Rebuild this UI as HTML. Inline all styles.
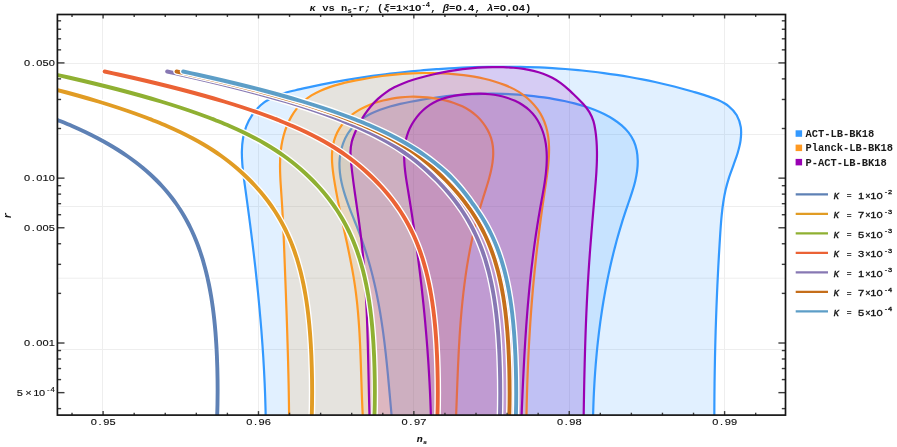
<!DOCTYPE html>
<html><head><meta charset="utf-8"><title>plot</title>
<style>html,body{margin:0;padding:0;background:#fff;}body{width:897px;height:447px;overflow:hidden;position:relative;font-family:"Liberation Mono",monospace;}</style></head>
<body>
<svg width="897" height="447" viewBox="0 0 897 447" style="position:absolute;left:0;top:0;will-change:transform">
<defs><clipPath id="cp"><rect x="57.40" y="14.50" width="728.10" height="400.60"/></clipPath></defs>
<rect width="897" height="447" fill="#fff"/>
<g stroke="#eeeeee" stroke-width="1" fill="none">
<line x1="102.50" y1="14.50" x2="102.50" y2="415.10"/>
<line x1="258.50" y1="14.50" x2="258.50" y2="415.10"/>
<line x1="413.50" y1="14.50" x2="413.50" y2="415.10"/>
<line x1="569.50" y1="14.50" x2="569.50" y2="415.10"/>
<line x1="724.50" y1="14.50" x2="724.50" y2="415.10"/>
<line x1="57.40" y1="63.50" x2="785.50" y2="63.50"/>
<line x1="57.40" y1="134.50" x2="785.50" y2="134.50"/>
<line x1="57.40" y1="206.50" x2="785.50" y2="206.50"/>
<line x1="57.40" y1="278.20" x2="785.50" y2="278.20"/>
<line x1="57.40" y1="349.50" x2="785.50" y2="349.50"/>
</g>
<g clip-path="url(#cp)">
<path d="M265.89,434.94 C265.87,432.80 265.84,426.37 265.78,422.08 C265.72,417.79 265.64,413.50 265.54,409.20 C265.43,404.90 265.31,400.60 265.16,396.30 C265.01,391.99 264.84,387.69 264.66,383.38 C264.47,379.07 264.26,374.76 264.03,370.45 C263.80,366.14 263.55,361.83 263.29,357.52 C263.02,353.21 262.73,348.90 262.43,344.59 C262.13,340.28 261.81,335.97 261.47,331.66 C261.14,327.35 260.78,323.04 260.41,318.74 C260.04,314.43 259.66,310.13 259.26,305.83 C258.86,301.53 258.45,297.23 258.02,292.94 C257.59,288.65 257.15,284.36 256.69,280.07 C256.24,275.79 255.77,271.51 255.29,267.23 C254.81,262.96 254.32,258.69 253.82,254.42 C253.32,250.16 252.80,245.90 252.28,241.65 C251.76,237.40 251.22,233.16 250.68,228.92 C250.14,224.68 249.59,220.46 249.03,216.22 C248.47,211.98 247.90,207.74 247.32,203.47 C246.75,199.20 246.16,194.92 245.58,190.60 C244.99,186.28 244.34,181.91 243.81,177.54 C243.27,173.16 242.69,168.73 242.36,164.35 C242.04,159.97 241.77,155.57 241.88,151.26 C241.98,146.94 242.25,142.64 242.99,138.46 C243.73,134.29 244.79,130.13 246.33,126.19 C247.88,122.25 249.90,118.33 252.28,114.84 C254.66,111.35 257.49,108.02 260.61,105.25 C263.72,102.49 267.27,100.19 270.98,98.24 C274.68,96.30 278.75,94.90 282.84,93.56 C286.93,92.23 291.25,91.27 295.50,90.23 C299.75,89.19 304.05,88.27 308.33,87.34 C312.60,86.42 316.87,85.52 321.14,84.67 C325.42,83.81 329.69,82.98 333.96,82.19 C338.23,81.40 342.50,80.64 346.77,79.92 C351.04,79.19 355.31,78.50 359.58,77.83 C363.85,77.17 368.12,76.54 372.39,75.94 C376.67,75.35 380.94,74.78 385.21,74.24 C389.48,73.70 393.75,73.20 398.03,72.72 C402.30,72.24 406.57,71.80 410.85,71.38 C415.12,70.96 419.40,70.57 423.68,70.21 C427.96,69.85 432.24,69.52 436.52,69.21 C440.80,68.91 445.08,68.63 449.37,68.38 C453.65,68.13 457.94,67.91 462.22,67.72 C466.51,67.52 470.80,67.35 475.09,67.22 C479.39,67.08 483.68,66.97 487.97,66.89 C492.27,66.81 496.56,66.76 500.86,66.74 C505.15,66.72 509.45,66.74 513.75,66.78 C518.04,66.83 522.34,66.91 526.63,67.02 C530.93,67.14 535.23,67.28 539.52,67.47 C543.82,67.65 548.11,67.87 552.41,68.13 C556.70,68.38 561.00,68.68 565.29,69.01 C569.58,69.34 573.87,69.71 578.16,70.12 C582.45,70.53 586.73,70.98 591.02,71.47 C595.30,71.96 599.59,72.48 603.87,73.06 C608.15,73.63 612.43,74.24 616.70,74.90 C620.98,75.56 625.25,76.26 629.52,77.01 C633.78,77.76 638.05,78.55 642.31,79.39 C646.57,80.23 650.83,81.11 655.09,82.04 C659.34,82.97 663.59,83.95 667.84,84.98 C672.08,86.01 676.32,87.09 680.56,88.22 C684.79,89.34 689.03,90.52 693.25,91.75 C697.48,92.98 701.76,94.20 705.91,95.60 C710.06,96.99 714.32,98.33 718.13,100.11 C721.95,101.89 725.71,103.78 728.81,106.29 C731.91,108.80 734.74,111.70 736.74,115.18 C738.74,118.66 740.15,123.00 740.80,127.16 C741.45,131.33 741.13,135.90 740.62,140.17 C740.10,144.44 738.92,148.63 737.73,152.78 C736.54,156.94 734.92,161.00 733.48,165.10 C732.04,169.20 730.39,173.25 729.08,177.37 C727.77,181.50 726.58,185.64 725.61,189.83 C724.64,194.02 723.89,198.26 723.24,202.51 C722.58,206.76 722.11,211.05 721.67,215.34 C721.23,219.63 720.92,223.94 720.61,228.25 C720.29,232.56 720.03,236.88 719.77,241.19 C719.50,245.51 719.24,249.82 718.99,254.12 C718.75,258.43 718.51,262.74 718.28,267.05 C718.06,271.35 717.84,275.66 717.64,279.96 C717.43,284.26 717.23,288.57 717.05,292.87 C716.86,297.17 716.69,301.47 716.52,305.77 C716.35,310.08 716.20,314.38 716.05,318.68 C715.90,322.98 715.77,327.28 715.64,331.58 C715.51,335.88 715.39,340.18 715.29,344.49 C715.18,348.79 715.08,353.09 714.99,357.40 C714.90,361.70 714.82,366.00 714.75,370.31 C714.67,374.62 714.61,378.92 714.56,383.23 C714.51,387.54 714.46,391.85 714.43,396.16 C714.39,400.48 714.37,404.79 714.35,409.11 C714.33,413.42 714.32,417.74 714.32,422.06 C714.32,426.38 714.34,432.87 714.35,435.03Z" fill="#3399FF" fill-opacity="0.15" stroke="#3399FF" stroke-width="2.2" stroke-linejoin="round"/>
<path d="M393.45,435.30 C393.28,433.54 392.76,428.24 392.43,424.72 C392.10,421.20 391.79,417.70 391.47,414.20 C391.15,410.71 390.85,407.23 390.54,403.76 C390.23,400.28 389.92,396.82 389.61,393.37 C389.30,389.92 389.00,386.47 388.68,383.04 C388.36,379.60 388.04,376.18 387.71,372.76 C387.38,369.35 387.04,365.94 386.69,362.54 C386.34,359.13 385.98,355.74 385.59,352.35 C385.21,348.97 384.82,345.59 384.40,342.21 C383.99,338.84 383.55,335.47 383.10,332.11 C382.64,328.75 382.16,325.39 381.65,322.04 C381.14,318.69 380.61,315.34 380.05,312.00 C379.48,308.66 378.89,305.32 378.26,301.98 C377.63,298.65 376.98,295.31 376.28,291.99 C375.58,288.66 374.85,285.33 374.07,282.01 C373.30,278.68 372.48,275.36 371.62,272.04 C370.76,268.72 369.86,265.40 368.91,262.08 C367.96,258.76 366.96,255.45 365.91,252.13 C364.87,248.81 363.77,245.49 362.61,242.17 C361.46,238.85 360.24,235.54 358.99,232.22 C357.73,228.90 356.39,225.57 355.09,222.25 C353.78,218.93 352.43,215.61 351.15,212.29 C349.87,208.97 348.58,205.65 347.41,202.33 C346.24,199.02 345.10,195.70 344.13,192.39 C343.15,189.07 342.25,185.76 341.55,182.46 C340.84,179.15 340.26,175.85 339.92,172.55 C339.57,169.25 339.39,165.96 339.48,162.67 C339.58,159.38 339.88,156.10 340.50,152.83 C341.12,149.56 342.00,146.23 343.21,143.05 C344.41,139.87 345.91,136.66 347.71,133.76 C349.51,130.86 351.65,128.10 354.01,125.65 C356.37,123.20 359.08,121.03 361.85,119.05 C364.62,117.07 367.61,115.36 370.65,113.80 C373.69,112.23 376.87,110.90 380.10,109.67 C383.33,108.45 386.66,107.41 390.02,106.44 C393.37,105.48 396.81,104.66 400.23,103.87 C403.66,103.09 407.13,102.41 410.58,101.74 C414.02,101.07 417.47,100.44 420.91,99.86 C424.36,99.27 427.80,98.72 431.23,98.22 C434.67,97.71 438.10,97.25 441.53,96.82 C444.97,96.40 448.39,96.02 451.82,95.68 C455.25,95.34 458.67,95.05 462.09,94.79 C465.51,94.54 468.93,94.33 472.35,94.16 C475.77,94.00 479.18,93.88 482.60,93.80 C486.01,93.72 489.42,93.69 492.83,93.71 C496.25,93.72 499.65,93.78 503.06,93.89 C506.47,93.99 509.88,94.14 513.28,94.34 C516.69,94.54 520.09,94.79 523.50,95.09 C526.90,95.38 530.31,95.72 533.71,96.11 C537.11,96.51 540.51,96.95 543.92,97.44 C547.32,97.93 550.72,98.46 554.12,99.06 C557.52,99.65 560.93,100.28 564.32,100.99 C567.71,101.70 571.10,102.47 574.47,103.34 C577.84,104.21 581.19,105.15 584.52,106.21 C587.84,107.28 591.15,108.44 594.41,109.74 C597.67,111.04 600.93,112.46 604.08,114.04 C607.23,115.62 610.39,117.33 613.32,119.22 C616.25,121.11 619.11,123.14 621.67,125.37 C624.22,127.61 626.62,130.00 628.64,132.60 C630.66,135.21 632.42,138.01 633.76,141.00 C635.11,143.98 636.06,147.23 636.73,150.53 C637.39,153.82 637.67,157.32 637.73,160.77 C637.79,164.21 637.52,167.76 637.09,171.20 C636.66,174.63 635.95,178.04 635.15,181.40 C634.35,184.76 633.34,188.07 632.31,191.38 C631.29,194.68 630.11,197.95 629.00,201.23 C627.88,204.51 626.72,207.78 625.63,211.07 C624.53,214.35 623.47,217.65 622.44,220.94 C621.41,224.24 620.41,227.55 619.44,230.86 C618.47,234.18 617.54,237.50 616.63,240.82 C615.73,244.15 614.85,247.48 614.00,250.82 C613.16,254.15 612.34,257.50 611.56,260.85 C610.77,264.20 610.01,267.55 609.28,270.91 C608.55,274.27 607.85,277.64 607.18,281.01 C606.50,284.38 605.86,287.76 605.24,291.14 C604.62,294.52 604.02,297.91 603.45,301.29 C602.89,304.68 602.35,308.08 601.83,311.48 C601.31,314.88 600.82,318.28 600.35,321.68 C599.89,325.09 599.44,328.50 599.03,331.91 C598.61,335.33 598.21,338.74 597.84,342.16 C597.47,345.58 597.12,349.01 596.79,352.43 C596.46,355.86 596.15,359.29 595.87,362.72 C595.58,366.15 595.32,369.58 595.08,373.02 C594.84,376.46 594.61,379.89 594.41,383.33 C594.21,386.77 594.03,390.22 593.86,393.66 C593.70,397.10 593.55,400.55 593.43,403.99 C593.30,407.44 593.19,410.89 593.10,414.34 C593.01,417.78 592.94,421.23 592.88,424.68 C592.82,428.13 592.78,433.31 592.76,435.03Z" fill="#3399FF" fill-opacity="0.15" stroke="#3399FF" stroke-width="2.2" stroke-linejoin="round"/>
<path d="M289.21,434.95 C289.20,433.24 289.19,428.12 289.17,424.70 C289.14,421.28 289.12,417.85 289.08,414.43 C289.04,411.00 289.00,407.57 288.95,404.13 C288.91,400.70 288.85,397.26 288.79,393.82 C288.73,390.38 288.67,386.94 288.60,383.49 C288.52,380.05 288.45,376.60 288.37,373.16 C288.29,369.71 288.20,366.26 288.11,362.81 C288.02,359.36 287.93,355.91 287.83,352.46 C287.73,349.01 287.63,345.56 287.52,342.11 C287.42,338.66 287.31,335.21 287.20,331.76 C287.09,328.31 286.97,324.86 286.86,321.42 C286.74,317.97 286.62,314.52 286.50,311.08 C286.38,307.64 286.25,304.20 286.13,300.76 C286.00,297.32 285.88,293.88 285.75,290.45 C285.62,287.01 285.49,283.58 285.36,280.15 C285.23,276.73 285.10,273.30 284.97,269.88 C284.84,266.46 284.71,263.05 284.58,259.63 C284.45,256.22 284.32,252.81 284.19,249.40 C284.05,245.99 283.92,242.59 283.77,239.18 C283.63,235.76 283.48,232.35 283.32,228.93 C283.16,225.52 283.00,222.09 282.82,218.66 C282.65,215.23 282.46,211.79 282.26,208.34 C282.06,204.89 281.85,201.43 281.62,197.96 C281.40,194.48 281.13,190.99 280.91,187.50 C280.69,184.00 280.45,180.49 280.30,176.99 C280.15,173.50 280.02,169.99 280.02,166.51 C280.03,163.02 280.09,159.54 280.32,156.09 C280.55,152.64 280.89,149.19 281.43,145.79 C281.97,142.39 282.66,139.00 283.56,135.69 C284.45,132.39 285.53,129.11 286.80,125.98 C288.06,122.84 289.52,119.77 291.17,116.87 C292.83,113.97 294.67,111.18 296.73,108.60 C298.78,106.01 301.03,103.58 303.49,101.38 C305.95,99.19 308.64,97.21 311.48,95.43 C314.32,93.64 317.39,92.09 320.53,90.67 C323.68,89.25 327.00,88.03 330.35,86.90 C333.70,85.77 337.18,84.80 340.65,83.89 C344.12,82.98 347.66,82.20 351.15,81.44 C354.63,80.68 358.12,79.99 361.58,79.33 C365.04,78.68 368.47,78.08 371.89,77.52 C375.31,76.97 378.72,76.46 382.11,76.01 C385.51,75.56 388.88,75.15 392.26,74.80 C395.64,74.45 399.01,74.14 402.38,73.89 C405.75,73.64 409.11,73.44 412.48,73.29 C415.85,73.14 419.22,73.05 422.60,73.00 C425.98,72.96 429.37,72.97 432.77,73.03 C436.17,73.09 439.58,73.20 443.01,73.37 C446.44,73.54 449.89,73.75 453.34,74.04 C456.79,74.33 460.25,74.68 463.71,75.11 C467.16,75.55 470.62,76.05 474.06,76.65 C477.50,77.26 480.94,77.94 484.34,78.74 C487.75,79.54 491.14,80.43 494.49,81.45 C497.83,82.48 501.18,83.59 504.43,84.87 C507.68,86.15 510.92,87.54 513.99,89.15 C517.05,90.77 520.06,92.54 522.84,94.55 C525.62,96.56 528.28,98.81 530.69,101.21 C533.10,103.61 535.34,106.24 537.31,108.96 C539.28,111.68 541.04,114.58 542.50,117.55 C543.96,120.51 545.14,123.60 546.09,126.74 C547.03,129.89 547.68,133.12 548.17,136.40 C548.66,139.69 548.90,143.05 549.01,146.43 C549.13,149.82 549.04,153.27 548.87,156.74 C548.70,160.20 548.37,163.71 548.00,167.22 C547.63,170.73 547.15,174.26 546.66,177.78 C546.18,181.30 545.63,184.83 545.11,188.33 C544.60,191.83 544.08,195.32 543.58,198.79 C543.08,202.26 542.59,205.71 542.11,209.14 C541.63,212.58 541.17,216.00 540.71,219.42 C540.26,222.83 539.81,226.23 539.38,229.62 C538.95,233.01 538.53,236.40 538.12,239.78 C537.71,243.16 537.31,246.53 536.92,249.90 C536.53,253.28 536.16,256.64 535.79,260.01 C535.43,263.38 535.07,266.75 534.73,270.13 C534.39,273.50 534.05,276.88 533.73,280.26 C533.41,283.65 533.10,287.03 532.80,290.43 C532.50,293.83 532.22,297.24 531.94,300.66 C531.66,304.08 531.40,307.51 531.14,310.94 C530.89,314.38 530.64,317.83 530.41,321.28 C530.17,324.73 529.95,328.19 529.74,331.65 C529.52,335.11 529.32,338.58 529.13,342.05 C528.93,345.52 528.75,348.99 528.58,352.46 C528.41,355.93 528.24,359.41 528.09,362.88 C527.94,366.35 527.79,369.82 527.66,373.28 C527.53,376.75 527.40,380.21 527.29,383.67 C527.17,387.12 527.07,390.57 526.97,394.02 C526.87,397.46 526.79,400.90 526.71,404.32 C526.63,407.75 526.56,411.17 526.50,414.57 C526.44,417.98 526.39,421.38 526.35,424.76 C526.30,428.14 526.26,433.17 526.24,434.86Z" fill="#FF9922" fill-opacity="0.15" stroke="#FF9922" stroke-width="2.2" stroke-linejoin="round"/>
<path d="M363.97,434.89 C363.87,433.44 363.54,429.09 363.35,426.17 C363.17,423.26 363.00,420.33 362.84,417.41 C362.68,414.48 362.54,411.54 362.40,408.60 C362.27,405.66 362.15,402.71 362.03,399.76 C361.92,396.80 361.81,393.85 361.71,390.89 C361.61,387.93 361.51,384.96 361.42,381.99 C361.32,379.03 361.23,376.06 361.13,373.09 C361.03,370.11 360.94,367.14 360.84,364.17 C360.73,361.19 360.63,358.22 360.51,355.24 C360.40,352.27 360.28,349.29 360.15,346.32 C360.01,343.35 359.87,340.37 359.71,337.40 C359.55,334.43 359.39,331.47 359.20,328.50 C359.01,325.54 358.81,322.57 358.58,319.62 C358.36,316.66 358.11,313.71 357.84,310.76 C357.58,307.81 357.29,304.87 356.97,301.93 C356.65,298.99 356.31,296.06 355.94,293.14 C355.57,290.21 355.16,287.30 354.73,284.39 C354.30,281.48 353.83,278.58 353.34,275.68 C352.86,272.79 352.34,269.90 351.80,267.01 C351.26,264.12 350.70,261.24 350.13,258.36 C349.55,255.48 348.96,252.61 348.36,249.73 C347.76,246.85 347.14,243.98 346.52,241.10 C345.90,238.22 345.27,235.35 344.64,232.46 C344.01,229.58 343.38,226.70 342.75,223.81 C342.12,220.92 341.50,218.02 340.88,215.12 C340.26,212.22 339.65,209.31 339.06,206.40 C338.46,203.48 337.88,200.56 337.32,197.62 C336.75,194.69 336.20,191.74 335.68,188.79 C335.16,185.83 334.64,182.86 334.18,179.88 C333.71,176.90 333.24,173.89 332.89,170.91 C332.54,167.92 332.22,164.92 332.08,161.97 C331.95,159.01 331.89,156.05 332.06,153.16 C332.23,150.26 332.53,147.39 333.12,144.59 C333.70,141.79 334.50,139.03 335.54,136.38 C336.58,133.73 337.88,131.13 339.37,128.69 C340.86,126.25 342.58,123.90 344.48,121.73 C346.37,119.57 348.49,117.55 350.73,115.70 C352.98,113.84 355.42,112.16 357.95,110.61 C360.48,109.07 363.16,107.68 365.90,106.42 C368.63,105.16 371.49,104.05 374.36,103.06 C377.23,102.06 380.18,101.21 383.10,100.46 C386.03,99.71 388.98,99.09 391.91,98.57 C394.85,98.05 397.78,97.65 400.71,97.35 C403.65,97.05 406.58,96.86 409.52,96.77 C412.46,96.67 415.41,96.69 418.36,96.80 C421.32,96.91 424.28,97.12 427.26,97.42 C430.23,97.72 433.24,98.11 436.23,98.60 C439.22,99.10 442.24,99.68 445.19,100.40 C448.15,101.13 451.11,101.95 453.96,102.94 C456.82,103.93 459.64,105.04 462.33,106.34 C465.02,107.64 467.64,109.09 470.09,110.74 C472.54,112.40 474.89,114.25 477.04,116.27 C479.19,118.28 481.21,120.50 482.98,122.81 C484.76,125.12 486.37,127.60 487.71,130.12 C489.06,132.64 490.18,135.28 491.03,137.92 C491.88,140.57 492.45,143.27 492.81,146.00 C493.18,148.72 493.27,151.48 493.23,154.27 C493.18,157.05 492.90,159.87 492.51,162.71 C492.13,165.54 491.56,168.40 490.92,171.28 C490.28,174.15 489.49,177.05 488.68,179.95 C487.87,182.85 486.95,185.77 486.05,188.69 C485.14,191.61 484.17,194.54 483.25,197.46 C482.33,200.39 481.41,203.32 480.53,206.24 C479.66,209.16 478.83,212.09 478.02,215.00 C477.22,217.92 476.45,220.84 475.71,223.75 C474.98,226.67 474.27,229.58 473.60,232.49 C472.92,235.41 472.28,238.32 471.66,241.23 C471.04,244.14 470.45,247.04 469.89,249.95 C469.33,252.86 468.80,255.76 468.29,258.67 C467.78,261.58 467.30,264.48 466.84,267.39 C466.38,270.29 465.95,273.20 465.53,276.10 C465.12,279.01 464.73,281.92 464.36,284.82 C463.99,287.73 463.64,290.64 463.31,293.54 C462.97,296.45 462.66,299.36 462.37,302.27 C462.07,305.18 461.79,308.09 461.53,311.01 C461.27,313.92 461.02,316.83 460.79,319.75 C460.56,322.67 460.34,325.59 460.13,328.51 C459.93,331.43 459.73,334.35 459.55,337.28 C459.37,340.20 459.20,343.13 459.03,346.06 C458.87,348.99 458.72,351.93 458.57,354.87 C458.42,357.80 458.29,360.74 458.15,363.69 C458.02,366.63 457.89,369.58 457.77,372.54 C457.65,375.49 457.53,378.44 457.41,381.40 C457.30,384.37 457.18,387.33 457.07,390.30 C456.96,393.27 456.85,396.24 456.74,399.22 C456.62,402.20 456.51,405.19 456.40,408.18 C456.28,411.17 456.17,414.16 456.04,417.16 C455.92,420.17 455.80,423.17 455.67,426.19 C455.54,429.20 455.33,433.73 455.26,435.24Z" fill="#FF9922" fill-opacity="0.15" stroke="#FF9922" stroke-width="2.2" stroke-linejoin="round"/>
<path d="M370.10,434.98 C370.04,433.29 369.86,428.23 369.76,424.86 C369.65,421.49 369.55,418.11 369.46,414.74 C369.36,411.36 369.28,407.99 369.19,404.61 C369.11,401.23 369.03,397.85 368.95,394.47 C368.88,391.09 368.80,387.71 368.73,384.33 C368.65,380.94 368.58,377.56 368.51,374.18 C368.44,370.80 368.36,367.41 368.29,364.03 C368.21,360.64 368.13,357.26 368.05,353.88 C367.97,350.49 367.88,347.11 367.79,343.73 C367.69,340.34 367.60,336.96 367.49,333.58 C367.38,330.19 367.27,326.81 367.15,323.43 C367.03,320.05 366.90,316.66 366.75,313.28 C366.61,309.90 366.46,306.52 366.29,303.14 C366.13,299.77 365.95,296.39 365.76,293.01 C365.56,289.64 365.36,286.26 365.14,282.89 C364.91,279.51 364.68,276.14 364.42,272.77 C364.17,269.40 363.90,266.03 363.60,262.67 C363.31,259.30 363.00,255.93 362.67,252.57 C362.34,249.21 361.99,245.85 361.61,242.49 C361.24,239.13 360.84,235.78 360.42,232.42 C360.00,229.07 359.55,225.72 359.09,222.37 C358.63,219.02 358.15,215.68 357.67,212.33 C357.19,208.98 356.69,205.63 356.21,202.28 C355.73,198.94 355.24,195.59 354.77,192.24 C354.30,188.88 353.83,185.53 353.39,182.17 C352.95,178.81 352.53,175.45 352.14,172.09 C351.75,168.72 351.34,165.35 351.07,161.98 C350.80,158.61 350.39,155.21 350.50,151.88 C350.61,148.56 350.97,145.25 351.73,142.02 C352.50,138.79 353.79,135.63 355.07,132.50 C356.36,129.37 357.85,126.26 359.46,123.25 C361.07,120.24 362.84,117.27 364.75,114.43 C366.66,111.60 368.71,108.84 370.91,106.24 C373.10,103.65 375.44,101.16 377.91,98.88 C380.38,96.59 383.00,94.45 385.73,92.53 C388.47,90.60 391.36,88.89 394.33,87.33 C397.30,85.77 400.40,84.42 403.54,83.17 C406.67,81.91 409.91,80.82 413.15,79.79 C416.39,78.76 419.70,77.85 422.98,76.96 C426.26,76.08 429.55,75.27 432.85,74.50 C436.14,73.73 439.44,73.02 442.75,72.37 C446.05,71.72 449.36,71.12 452.67,70.58 C455.99,70.05 459.31,69.57 462.65,69.15 C465.98,68.74 469.32,68.38 472.67,68.09 C476.02,67.79 479.38,67.56 482.76,67.40 C486.13,67.23 489.51,67.13 492.91,67.09 C496.31,67.06 499.73,67.08 503.14,67.18 C506.56,67.29 510.01,67.45 513.41,67.74 C516.82,68.02 520.24,68.39 523.59,68.91 C526.95,69.43 530.29,70.05 533.55,70.86 C536.81,71.67 540.04,72.61 543.16,73.76 C546.28,74.92 549.34,76.23 552.27,77.78 C555.21,79.33 558.04,81.10 560.77,83.06 C563.50,85.03 566.08,87.28 568.63,89.56 C571.19,91.83 573.66,94.28 576.10,96.70 C578.54,99.12 581.05,101.51 583.26,104.07 C585.48,106.64 587.69,109.24 589.39,112.09 C591.09,114.93 592.44,117.99 593.45,121.16 C594.46,124.32 594.95,127.75 595.46,131.09 C595.98,134.42 596.28,137.81 596.52,141.18 C596.77,144.55 596.89,147.92 596.95,151.30 C597.01,154.68 596.96,158.06 596.87,161.44 C596.78,164.82 596.60,168.20 596.41,171.59 C596.22,174.97 595.96,178.35 595.71,181.74 C595.45,185.12 595.16,188.50 594.88,191.88 C594.61,195.25 594.32,198.63 594.04,202.00 C593.75,205.38 593.47,208.75 593.18,212.12 C592.90,215.49 592.61,218.86 592.33,222.23 C592.05,225.60 591.77,228.97 591.50,232.33 C591.22,235.70 590.95,239.07 590.69,242.44 C590.42,245.80 590.16,249.17 589.91,252.54 C589.66,255.91 589.42,259.28 589.19,262.65 C588.95,266.02 588.73,269.39 588.52,272.76 C588.30,276.14 588.10,279.51 587.90,282.88 C587.71,286.26 587.52,289.63 587.34,293.01 C587.17,296.39 587.00,299.77 586.83,303.14 C586.67,306.52 586.52,309.90 586.37,313.28 C586.23,316.66 586.09,320.04 585.95,323.42 C585.82,326.80 585.70,330.18 585.58,333.56 C585.46,336.95 585.35,340.33 585.24,343.71 C585.13,347.09 585.03,350.47 584.94,353.86 C584.84,357.24 584.75,360.62 584.67,364.00 C584.58,367.39 584.50,370.77 584.43,374.15 C584.35,377.53 584.28,380.92 584.21,384.30 C584.14,387.68 584.08,391.06 584.02,394.44 C583.96,397.82 583.90,401.21 583.85,404.59 C583.79,407.97 583.74,411.35 583.69,414.73 C583.64,418.10 583.60,421.48 583.55,424.86 C583.51,428.24 583.44,433.30 583.42,434.99Z" fill="#9900B3" fill-opacity="0.15" stroke="#9900B3" stroke-width="2.2" stroke-linejoin="round"/>
<path d="M431.36,435.18 C431.33,433.70 431.25,429.27 431.18,426.32 C431.11,423.37 431.03,420.43 430.95,417.49 C430.86,414.55 430.77,411.62 430.66,408.69 C430.56,405.76 430.45,402.83 430.33,399.91 C430.21,396.99 430.08,394.07 429.95,391.15 C429.81,388.24 429.67,385.33 429.51,382.42 C429.36,379.51 429.20,376.60 429.03,373.70 C428.86,370.80 428.69,367.90 428.50,365.00 C428.32,362.11 428.12,359.21 427.92,356.32 C427.72,353.43 427.51,350.54 427.30,347.65 C427.08,344.76 426.86,341.87 426.62,338.99 C426.39,336.11 426.15,333.22 425.90,330.34 C425.66,327.46 425.40,324.58 425.14,321.70 C424.87,318.82 424.60,315.94 424.32,313.06 C424.04,310.19 423.76,307.31 423.46,304.43 C423.17,301.56 422.87,298.68 422.56,295.80 C422.25,292.93 421.93,290.05 421.61,287.18 C421.28,284.30 420.95,281.42 420.61,278.55 C420.27,275.67 419.92,272.79 419.57,269.91 C419.21,267.04 418.85,264.16 418.48,261.28 C418.12,258.40 417.74,255.52 417.36,252.63 C416.97,249.75 416.58,246.87 416.18,243.98 C415.79,241.09 415.38,238.21 414.97,235.32 C414.56,232.43 414.14,229.53 413.71,226.64 C413.28,223.75 412.85,220.85 412.41,217.95 C411.97,215.05 411.52,212.15 411.07,209.24 C410.61,206.34 410.15,203.43 409.68,200.52 C409.22,197.61 408.74,194.69 408.26,191.78 C407.78,188.86 407.28,185.93 406.82,183.02 C406.36,180.10 405.90,177.18 405.53,174.27 C405.15,171.36 404.80,168.46 404.57,165.58 C404.35,162.69 404.18,159.82 404.17,156.97 C404.15,154.13 404.23,151.29 404.50,148.50 C404.77,145.70 405.16,142.92 405.77,140.18 C406.38,137.45 407.16,134.74 408.18,132.07 C409.20,129.41 410.46,126.76 411.92,124.22 C413.37,121.68 415.09,119.15 416.93,116.82 C418.78,114.50 420.85,112.24 423.00,110.25 C425.16,108.25 427.49,106.43 429.88,104.85 C432.28,103.28 434.79,101.96 437.38,100.80 C439.96,99.65 442.64,98.72 445.38,97.91 C448.12,97.10 450.94,96.48 453.80,95.93 C456.66,95.39 459.59,94.98 462.54,94.64 C465.48,94.30 468.49,94.04 471.49,93.88 C474.48,93.73 477.52,93.66 480.52,93.72 C483.53,93.78 486.55,93.93 489.53,94.24 C492.50,94.54 495.47,94.95 498.36,95.53 C501.26,96.11 504.13,96.81 506.91,97.69 C509.69,98.57 512.42,99.60 515.04,100.82 C517.66,102.03 520.22,103.41 522.62,104.99 C525.01,106.56 527.34,108.31 529.42,110.25 C531.51,112.19 533.45,114.33 535.15,116.61 C536.84,118.88 538.32,121.39 539.61,123.91 C540.90,126.43 541.97,129.09 542.88,131.74 C543.79,134.39 544.50,137.10 545.08,139.82 C545.66,142.55 546.06,145.31 546.34,148.09 C546.63,150.88 546.76,153.70 546.80,156.53 C546.83,159.37 546.74,162.23 546.58,165.10 C546.41,167.98 546.14,170.88 545.82,173.78 C545.49,176.69 545.08,179.62 544.65,182.54 C544.22,185.47 543.71,188.41 543.21,191.35 C542.71,194.29 542.16,197.23 541.63,200.17 C541.11,203.11 540.57,206.05 540.05,208.98 C539.54,211.92 539.04,214.84 538.55,217.77 C538.07,220.69 537.60,223.61 537.15,226.52 C536.69,229.43 536.25,232.34 535.82,235.25 C535.40,238.15 534.99,241.05 534.59,243.95 C534.19,246.85 533.80,249.74 533.43,252.63 C533.05,255.53 532.69,258.41 532.35,261.30 C532.00,264.19 531.66,267.07 531.33,269.95 C531.01,272.83 530.69,275.71 530.39,278.59 C530.09,281.46 529.80,284.34 529.51,287.21 C529.23,290.09 528.96,292.96 528.69,295.84 C528.43,298.71 528.18,301.58 527.93,304.45 C527.69,307.33 527.45,310.20 527.22,313.07 C527.00,315.94 526.78,318.82 526.57,321.69 C526.35,324.56 526.15,327.44 525.95,330.31 C525.76,333.19 525.57,336.07 525.38,338.95 C525.20,341.82 525.02,344.71 524.85,347.59 C524.68,350.47 524.51,353.36 524.35,356.24 C524.19,359.13 524.03,362.02 523.88,364.92 C523.73,367.81 523.58,370.71 523.44,373.61 C523.30,376.51 523.16,379.41 523.02,382.32 C522.89,385.23 522.75,388.14 522.62,391.06 C522.49,393.97 522.37,396.90 522.24,399.82 C522.11,402.75 521.99,405.68 521.87,408.62 C521.75,411.56 521.63,414.50 521.51,417.45 C521.38,420.40 521.27,423.35 521.15,426.31 C521.03,429.27 520.85,433.73 520.79,435.22Z" fill="#9900B3" fill-opacity="0.15" stroke="#9900B3" stroke-width="2.2" stroke-linejoin="round"/>
<path d="M-115.69,71.50 C-113.40,72.00 -106.49,73.50 -101.98,74.50 C-97.48,75.50 -93.03,76.50 -88.65,77.50 C-84.27,78.50 -79.95,79.50 -75.69,80.50 C-71.44,81.50 -67.25,82.50 -63.13,83.50 C-59.01,84.50 -54.96,85.50 -50.97,86.50 C-46.99,87.50 -43.07,88.50 -39.22,89.50 C-35.37,90.50 -31.58,91.50 -27.87,92.50 C-24.15,93.50 -20.51,94.50 -16.93,95.50 C-13.35,96.50 -9.84,97.50 -6.40,98.50 C-2.95,99.50 0.42,100.50 3.73,101.50 C7.04,102.50 10.28,103.50 13.45,104.50 C16.63,105.50 19.74,106.50 22.78,107.50 C25.83,108.50 28.81,109.50 31.72,110.50 C34.64,111.50 37.49,112.50 40.28,113.50 C43.07,114.50 45.80,115.50 48.46,116.50 C51.13,117.50 54.77,118.92 56.28,119.50 C57.80,120.08 54.93,118.92 57.55,120.00 C60.17,121.08 67.42,124.00 72.02,126.00 C76.63,128.00 80.99,130.00 85.19,132.00 C89.38,134.00 93.36,136.00 97.17,138.00 C100.99,140.00 104.61,142.00 108.09,144.00 C111.57,146.00 114.87,148.00 118.04,150.00 C121.21,152.00 124.23,154.00 127.12,156.00 C130.01,158.00 132.76,160.00 135.40,162.00 C138.04,164.00 140.55,166.00 142.96,168.00 C145.37,170.00 147.66,172.00 149.86,174.00 C152.06,176.00 154.15,178.00 156.16,180.00 C158.17,182.00 160.09,184.00 161.92,186.00 C163.76,188.00 165.51,190.00 167.19,192.00 C168.87,194.00 170.47,196.00 172.00,198.00 C173.54,200.00 175.00,202.00 176.40,204.00 C177.80,206.00 179.13,208.00 180.42,210.00 C181.70,212.00 182.91,214.00 184.08,216.00 C185.25,218.00 186.37,220.00 187.43,222.00 C188.50,224.00 189.52,226.00 190.49,228.00 C191.47,230.00 192.39,232.00 193.28,234.00 C194.18,236.00 195.02,238.00 195.83,240.00 C196.65,242.00 197.42,244.00 198.16,246.00 C198.90,248.00 199.61,250.00 200.28,252.00 C200.96,254.00 201.80,256.67 202.22,258.00 C202.64,259.33 202.18,257.67 202.83,260.00 C203.47,262.33 205.10,268.00 206.10,272.00 C207.10,276.00 208.00,280.00 208.83,284.00 C209.66,288.00 210.40,292.00 211.07,296.00 C211.75,300.00 212.34,304.00 212.88,308.00 C213.42,312.00 213.89,316.00 214.32,320.00 C214.74,324.00 215.11,328.00 215.44,332.00 C215.76,336.00 216.04,340.00 216.28,344.00 C216.53,348.00 216.73,352.00 216.90,356.00 C217.07,360.00 217.21,364.00 217.32,368.00 C217.43,372.00 217.51,376.00 217.56,380.00 C217.61,384.00 217.63,388.00 217.62,392.00 C217.60,396.00 217.57,400.00 217.49,404.00 C217.40,408.00 217.30,412.00 217.13,416.00 C216.96,420.00 216.57,426.00 216.46,428.00" fill="none" stroke="#fff" stroke-width="6.6" stroke-linecap="round"/>
<path d="M-115.69,71.50 C-113.40,72.00 -106.49,73.50 -101.98,74.50 C-97.48,75.50 -93.03,76.50 -88.65,77.50 C-84.27,78.50 -79.95,79.50 -75.69,80.50 C-71.44,81.50 -67.25,82.50 -63.13,83.50 C-59.01,84.50 -54.96,85.50 -50.97,86.50 C-46.99,87.50 -43.07,88.50 -39.22,89.50 C-35.37,90.50 -31.58,91.50 -27.87,92.50 C-24.15,93.50 -20.51,94.50 -16.93,95.50 C-13.35,96.50 -9.84,97.50 -6.40,98.50 C-2.95,99.50 0.42,100.50 3.73,101.50 C7.04,102.50 10.28,103.50 13.45,104.50 C16.63,105.50 19.74,106.50 22.78,107.50 C25.83,108.50 28.81,109.50 31.72,110.50 C34.64,111.50 37.49,112.50 40.28,113.50 C43.07,114.50 45.80,115.50 48.46,116.50 C51.13,117.50 54.77,118.92 56.28,119.50 C57.80,120.08 54.93,118.92 57.55,120.00 C60.17,121.08 67.42,124.00 72.02,126.00 C76.63,128.00 80.99,130.00 85.19,132.00 C89.38,134.00 93.36,136.00 97.17,138.00 C100.99,140.00 104.61,142.00 108.09,144.00 C111.57,146.00 114.87,148.00 118.04,150.00 C121.21,152.00 124.23,154.00 127.12,156.00 C130.01,158.00 132.76,160.00 135.40,162.00 C138.04,164.00 140.55,166.00 142.96,168.00 C145.37,170.00 147.66,172.00 149.86,174.00 C152.06,176.00 154.15,178.00 156.16,180.00 C158.17,182.00 160.09,184.00 161.92,186.00 C163.76,188.00 165.51,190.00 167.19,192.00 C168.87,194.00 170.47,196.00 172.00,198.00 C173.54,200.00 175.00,202.00 176.40,204.00 C177.80,206.00 179.13,208.00 180.42,210.00 C181.70,212.00 182.91,214.00 184.08,216.00 C185.25,218.00 186.37,220.00 187.43,222.00 C188.50,224.00 189.52,226.00 190.49,228.00 C191.47,230.00 192.39,232.00 193.28,234.00 C194.18,236.00 195.02,238.00 195.83,240.00 C196.65,242.00 197.42,244.00 198.16,246.00 C198.90,248.00 199.61,250.00 200.28,252.00 C200.96,254.00 201.80,256.67 202.22,258.00 C202.64,259.33 202.18,257.67 202.83,260.00 C203.47,262.33 205.10,268.00 206.10,272.00 C207.10,276.00 208.00,280.00 208.83,284.00 C209.66,288.00 210.40,292.00 211.07,296.00 C211.75,300.00 212.34,304.00 212.88,308.00 C213.42,312.00 213.89,316.00 214.32,320.00 C214.74,324.00 215.11,328.00 215.44,332.00 C215.76,336.00 216.04,340.00 216.28,344.00 C216.53,348.00 216.73,352.00 216.90,356.00 C217.07,360.00 217.21,364.00 217.32,368.00 C217.43,372.00 217.51,376.00 217.56,380.00 C217.61,384.00 217.63,388.00 217.62,392.00 C217.60,396.00 217.57,400.00 217.49,404.00 C217.40,408.00 217.30,412.00 217.13,416.00 C216.96,420.00 216.57,426.00 216.46,428.00" fill="none" stroke="#5E81B5" stroke-width="3.9" stroke-linecap="round"/>
<path d="M-21.07,71.50 C-18.79,72.00 -11.87,73.50 -7.37,74.50 C-2.86,75.50 1.58,76.50 5.96,77.50 C10.34,78.50 14.66,79.50 18.90,80.50 C23.15,81.50 27.34,82.50 31.45,83.50 C35.57,84.50 39.62,85.50 43.60,86.50 C47.58,87.50 51.50,88.50 55.35,89.50 C59.19,90.50 62.97,91.50 66.69,92.50 C70.40,93.50 74.04,94.50 77.62,95.50 C81.20,96.50 84.71,97.50 88.15,98.50 C91.60,99.50 94.97,100.50 98.28,101.50 C101.59,102.50 104.84,103.50 108.02,104.50 C111.20,105.50 114.31,106.50 117.37,107.50 C120.42,108.50 123.40,109.50 126.33,110.50 C129.25,111.50 132.11,112.50 134.92,113.50 C137.72,114.50 140.45,115.50 143.13,116.50 C145.81,117.50 149.47,118.92 150.99,119.50 C152.51,120.08 149.63,118.92 152.27,120.00 C154.90,121.08 162.18,124.00 166.81,126.00 C171.43,128.00 175.81,130.00 180.01,132.00 C184.20,134.00 188.17,136.00 191.96,138.00 C195.75,140.00 199.34,142.00 202.76,144.00 C206.19,146.00 209.42,148.00 212.51,150.00 C215.60,152.00 218.51,154.00 221.31,156.00 C224.11,158.00 226.75,160.00 229.30,162.00 C231.85,164.00 234.27,166.00 236.61,168.00 C238.94,170.00 241.17,172.00 243.32,174.00 C245.48,176.00 247.54,178.00 249.54,180.00 C251.53,182.00 253.44,184.00 255.29,186.00 C257.13,188.00 258.89,190.00 260.60,192.00 C262.30,194.00 263.92,196.00 265.49,198.00 C267.06,200.00 268.55,202.00 269.99,204.00 C271.43,206.00 272.81,208.00 274.13,210.00 C275.45,212.00 276.71,214.00 277.92,216.00 C279.13,218.00 280.29,220.00 281.40,222.00 C282.50,224.00 283.56,226.00 284.57,228.00 C285.58,230.00 286.54,232.00 287.47,234.00 C288.39,236.00 289.27,238.00 290.11,240.00 C290.95,242.00 291.75,244.00 292.51,246.00 C293.28,248.00 294.00,250.00 294.70,252.00 C295.40,254.00 296.25,256.67 296.69,258.00 C297.12,259.33 296.65,257.67 297.31,260.00 C297.97,262.33 299.63,268.00 300.65,272.00 C301.66,276.00 302.56,280.00 303.39,284.00 C304.22,288.00 304.95,292.00 305.62,296.00 C306.29,300.00 306.88,304.00 307.41,308.00 C307.95,312.00 308.41,316.00 308.83,320.00 C309.25,324.00 309.61,328.00 309.93,332.00 C310.25,336.00 310.52,340.00 310.77,344.00 C311.01,348.00 311.21,352.00 311.38,356.00 C311.55,360.00 311.69,364.00 311.80,368.00 C311.91,372.00 311.99,376.00 312.05,380.00 C312.10,384.00 312.13,388.00 312.13,392.00 C312.12,396.00 312.10,400.00 312.03,404.00 C311.96,408.00 311.87,412.00 311.72,416.00 C311.57,420.00 311.23,426.00 311.13,428.00" fill="none" stroke="#fff" stroke-width="6.6" stroke-linecap="round"/>
<path d="M-21.07,71.50 C-18.79,72.00 -11.87,73.50 -7.37,74.50 C-2.86,75.50 1.58,76.50 5.96,77.50 C10.34,78.50 14.66,79.50 18.90,80.50 C23.15,81.50 27.34,82.50 31.45,83.50 C35.57,84.50 39.62,85.50 43.60,86.50 C47.58,87.50 51.50,88.50 55.35,89.50 C59.19,90.50 62.97,91.50 66.69,92.50 C70.40,93.50 74.04,94.50 77.62,95.50 C81.20,96.50 84.71,97.50 88.15,98.50 C91.60,99.50 94.97,100.50 98.28,101.50 C101.59,102.50 104.84,103.50 108.02,104.50 C111.20,105.50 114.31,106.50 117.37,107.50 C120.42,108.50 123.40,109.50 126.33,110.50 C129.25,111.50 132.11,112.50 134.92,113.50 C137.72,114.50 140.45,115.50 143.13,116.50 C145.81,117.50 149.47,118.92 150.99,119.50 C152.51,120.08 149.63,118.92 152.27,120.00 C154.90,121.08 162.18,124.00 166.81,126.00 C171.43,128.00 175.81,130.00 180.01,132.00 C184.20,134.00 188.17,136.00 191.96,138.00 C195.75,140.00 199.34,142.00 202.76,144.00 C206.19,146.00 209.42,148.00 212.51,150.00 C215.60,152.00 218.51,154.00 221.31,156.00 C224.11,158.00 226.75,160.00 229.30,162.00 C231.85,164.00 234.27,166.00 236.61,168.00 C238.94,170.00 241.17,172.00 243.32,174.00 C245.48,176.00 247.54,178.00 249.54,180.00 C251.53,182.00 253.44,184.00 255.29,186.00 C257.13,188.00 258.89,190.00 260.60,192.00 C262.30,194.00 263.92,196.00 265.49,198.00 C267.06,200.00 268.55,202.00 269.99,204.00 C271.43,206.00 272.81,208.00 274.13,210.00 C275.45,212.00 276.71,214.00 277.92,216.00 C279.13,218.00 280.29,220.00 281.40,222.00 C282.50,224.00 283.56,226.00 284.57,228.00 C285.58,230.00 286.54,232.00 287.47,234.00 C288.39,236.00 289.27,238.00 290.11,240.00 C290.95,242.00 291.75,244.00 292.51,246.00 C293.28,248.00 294.00,250.00 294.70,252.00 C295.40,254.00 296.25,256.67 296.69,258.00 C297.12,259.33 296.65,257.67 297.31,260.00 C297.97,262.33 299.63,268.00 300.65,272.00 C301.66,276.00 302.56,280.00 303.39,284.00 C304.22,288.00 304.95,292.00 305.62,296.00 C306.29,300.00 306.88,304.00 307.41,308.00 C307.95,312.00 308.41,316.00 308.83,320.00 C309.25,324.00 309.61,328.00 309.93,332.00 C310.25,336.00 310.52,340.00 310.77,344.00 C311.01,348.00 311.21,352.00 311.38,356.00 C311.55,360.00 311.69,364.00 311.80,368.00 C311.91,372.00 311.99,376.00 312.05,380.00 C312.10,384.00 312.13,388.00 312.13,392.00 C312.12,396.00 312.10,400.00 312.03,404.00 C311.96,408.00 311.87,412.00 311.72,416.00 C311.57,420.00 311.23,426.00 311.13,428.00" fill="none" stroke="#E19C24" stroke-width="3.9" stroke-linecap="round"/>
<path d="M41.63,71.50 C43.91,72.00 50.83,73.50 55.33,74.50 C59.84,75.50 64.28,76.50 68.66,77.50 C73.04,78.50 77.36,79.50 81.60,80.50 C85.85,81.50 90.04,82.50 94.15,83.50 C98.27,84.50 102.32,85.50 106.30,86.50 C110.28,87.50 114.20,88.50 118.05,89.50 C121.89,90.50 125.67,91.50 129.39,92.50 C133.10,93.50 136.74,94.50 140.32,95.50 C143.90,96.50 147.41,97.50 150.85,98.50 C154.30,99.50 157.67,100.50 160.98,101.50 C164.29,102.50 167.54,103.50 170.72,104.50 C173.90,105.50 177.01,106.50 180.07,107.50 C183.12,108.50 186.10,109.50 189.03,110.50 C191.95,111.50 194.81,112.50 197.62,113.50 C200.42,114.50 203.15,115.50 205.83,116.50 C208.51,117.50 212.17,118.92 213.69,119.50 C215.21,120.08 212.33,118.92 214.97,120.00 C217.60,121.08 224.88,124.00 229.51,126.00 C234.13,128.00 238.51,130.00 242.71,132.00 C246.90,134.00 250.87,136.00 254.66,138.00 C258.45,140.00 262.04,142.00 265.46,144.00 C268.89,146.00 272.12,148.00 275.21,150.00 C278.30,152.00 281.21,154.00 284.01,156.00 C286.81,158.00 289.45,160.00 292.00,162.00 C294.55,164.00 296.97,166.00 299.31,168.00 C301.64,170.00 303.87,172.00 306.02,174.00 C308.18,176.00 310.24,178.00 312.24,180.00 C314.23,182.00 316.14,184.00 317.99,186.00 C319.83,188.00 321.59,190.00 323.30,192.00 C325.00,194.00 326.62,196.00 328.19,198.00 C329.76,200.00 331.25,202.00 332.69,204.00 C334.13,206.00 335.51,208.00 336.83,210.00 C338.15,212.00 339.41,214.00 340.62,216.00 C341.83,218.00 342.99,220.00 344.10,222.00 C345.20,224.00 346.26,226.00 347.27,228.00 C348.28,230.00 349.24,232.00 350.17,234.00 C351.09,236.00 351.97,238.00 352.81,240.00 C353.65,242.00 354.45,244.00 355.21,246.00 C355.98,248.00 356.70,250.00 357.40,252.00 C358.10,254.00 358.95,256.67 359.39,258.00 C359.82,259.33 359.35,257.67 360.01,260.00 C360.67,262.33 362.33,268.00 363.35,272.00 C364.36,276.00 365.26,280.00 366.09,284.00 C366.92,288.00 367.65,292.00 368.32,296.00 C368.99,300.00 369.58,304.00 370.11,308.00 C370.65,312.00 371.11,316.00 371.53,320.00 C371.95,324.00 372.31,328.00 372.63,332.00 C372.95,336.00 373.22,340.00 373.47,344.00 C373.71,348.00 373.91,352.00 374.08,356.00 C374.25,360.00 374.39,364.00 374.50,368.00 C374.61,372.00 374.69,376.00 374.75,380.00 C374.80,384.00 374.83,388.00 374.83,392.00 C374.82,396.00 374.80,400.00 374.73,404.00 C374.66,408.00 374.57,412.00 374.42,416.00 C374.27,420.00 373.93,426.00 373.83,428.00" fill="none" stroke="#fff" stroke-width="6.6" stroke-linecap="round"/>
<path d="M41.63,71.50 C43.91,72.00 50.83,73.50 55.33,74.50 C59.84,75.50 64.28,76.50 68.66,77.50 C73.04,78.50 77.36,79.50 81.60,80.50 C85.85,81.50 90.04,82.50 94.15,83.50 C98.27,84.50 102.32,85.50 106.30,86.50 C110.28,87.50 114.20,88.50 118.05,89.50 C121.89,90.50 125.67,91.50 129.39,92.50 C133.10,93.50 136.74,94.50 140.32,95.50 C143.90,96.50 147.41,97.50 150.85,98.50 C154.30,99.50 157.67,100.50 160.98,101.50 C164.29,102.50 167.54,103.50 170.72,104.50 C173.90,105.50 177.01,106.50 180.07,107.50 C183.12,108.50 186.10,109.50 189.03,110.50 C191.95,111.50 194.81,112.50 197.62,113.50 C200.42,114.50 203.15,115.50 205.83,116.50 C208.51,117.50 212.17,118.92 213.69,119.50 C215.21,120.08 212.33,118.92 214.97,120.00 C217.60,121.08 224.88,124.00 229.51,126.00 C234.13,128.00 238.51,130.00 242.71,132.00 C246.90,134.00 250.87,136.00 254.66,138.00 C258.45,140.00 262.04,142.00 265.46,144.00 C268.89,146.00 272.12,148.00 275.21,150.00 C278.30,152.00 281.21,154.00 284.01,156.00 C286.81,158.00 289.45,160.00 292.00,162.00 C294.55,164.00 296.97,166.00 299.31,168.00 C301.64,170.00 303.87,172.00 306.02,174.00 C308.18,176.00 310.24,178.00 312.24,180.00 C314.23,182.00 316.14,184.00 317.99,186.00 C319.83,188.00 321.59,190.00 323.30,192.00 C325.00,194.00 326.62,196.00 328.19,198.00 C329.76,200.00 331.25,202.00 332.69,204.00 C334.13,206.00 335.51,208.00 336.83,210.00 C338.15,212.00 339.41,214.00 340.62,216.00 C341.83,218.00 342.99,220.00 344.10,222.00 C345.20,224.00 346.26,226.00 347.27,228.00 C348.28,230.00 349.24,232.00 350.17,234.00 C351.09,236.00 351.97,238.00 352.81,240.00 C353.65,242.00 354.45,244.00 355.21,246.00 C355.98,248.00 356.70,250.00 357.40,252.00 C358.10,254.00 358.95,256.67 359.39,258.00 C359.82,259.33 359.35,257.67 360.01,260.00 C360.67,262.33 362.33,268.00 363.35,272.00 C364.36,276.00 365.26,280.00 366.09,284.00 C366.92,288.00 367.65,292.00 368.32,296.00 C368.99,300.00 369.58,304.00 370.11,308.00 C370.65,312.00 371.11,316.00 371.53,320.00 C371.95,324.00 372.31,328.00 372.63,332.00 C372.95,336.00 373.22,340.00 373.47,344.00 C373.71,348.00 373.91,352.00 374.08,356.00 C374.25,360.00 374.39,364.00 374.50,368.00 C374.61,372.00 374.69,376.00 374.75,380.00 C374.80,384.00 374.83,388.00 374.83,392.00 C374.82,396.00 374.80,400.00 374.73,404.00 C374.66,408.00 374.57,412.00 374.42,416.00 C374.27,420.00 373.93,426.00 373.83,428.00" fill="none" stroke="#8FB032" stroke-width="3.9" stroke-linecap="round"/>
<path d="M104.63,71.50 C106.91,72.00 113.83,73.50 118.34,74.50 C122.84,75.50 127.29,76.50 131.66,77.50 C136.04,78.50 140.36,79.50 144.60,80.50 C148.85,81.50 153.03,82.50 157.15,83.50 C161.26,84.50 165.31,85.50 169.29,86.50 C173.27,87.50 177.19,88.50 181.03,89.50 C184.88,90.50 188.66,91.50 192.37,92.50 C196.08,93.50 199.73,94.50 203.30,95.50 C206.88,96.50 210.39,97.50 213.83,98.50 C217.28,99.50 220.66,100.50 223.97,101.50 C227.28,102.50 230.53,103.50 233.71,104.50 C236.89,105.50 240.01,106.50 243.06,107.50 C246.11,108.50 249.10,109.50 252.03,110.50 C254.96,111.50 257.82,112.50 260.63,113.50 C263.43,114.50 266.17,115.50 268.86,116.50 C271.54,117.50 275.20,118.92 276.73,119.50 C278.25,120.08 275.37,118.92 278.01,120.00 C280.65,121.08 287.94,124.00 292.57,126.00 C297.20,128.00 301.59,130.00 305.78,132.00 C309.97,134.00 313.94,136.00 317.72,138.00 C321.51,140.00 325.08,142.00 328.49,144.00 C331.89,146.00 335.10,148.00 338.16,150.00 C341.23,152.00 344.10,154.00 346.87,156.00 C349.64,158.00 352.25,160.00 354.77,162.00 C357.29,164.00 359.67,166.00 361.99,168.00 C364.30,170.00 366.51,172.00 368.65,174.00 C370.79,176.00 372.84,178.00 374.83,180.00 C376.82,182.00 378.73,184.00 380.57,186.00 C382.42,188.00 384.19,190.00 385.90,192.00 C387.60,194.00 389.24,196.00 390.82,198.00 C392.40,200.00 393.91,202.00 395.36,204.00 C396.81,206.00 398.20,208.00 399.54,210.00 C400.87,212.00 402.15,214.00 403.37,216.00 C404.59,218.00 405.76,220.00 406.88,222.00 C408.00,224.00 409.07,226.00 410.10,228.00 C411.12,230.00 412.09,232.00 413.03,234.00 C413.96,236.00 414.85,238.00 415.70,240.00 C416.55,242.00 417.36,244.00 418.13,246.00 C418.90,248.00 419.64,250.00 420.34,252.00 C421.04,254.00 421.91,256.67 422.35,258.00 C422.78,259.33 422.31,257.67 422.97,260.00 C423.63,262.33 425.31,268.00 426.33,272.00 C427.34,276.00 428.24,280.00 429.07,284.00 C429.90,288.00 430.64,292.00 431.30,296.00 C431.97,300.00 432.56,304.00 433.09,308.00 C433.62,312.00 434.08,316.00 434.50,320.00 C434.92,324.00 435.27,328.00 435.60,332.00 C435.92,336.00 436.19,340.00 436.43,344.00 C436.67,348.00 436.87,352.00 437.04,356.00 C437.21,360.00 437.35,364.00 437.46,368.00 C437.57,372.00 437.66,376.00 437.71,380.00 C437.77,384.00 437.80,388.00 437.80,392.00 C437.80,396.00 437.77,400.00 437.71,404.00 C437.64,408.00 437.55,412.00 437.41,416.00 C437.27,420.00 436.95,426.00 436.86,428.00" fill="none" stroke="#fff" stroke-width="6.6" stroke-linecap="round"/>
<path d="M104.63,71.50 C106.91,72.00 113.83,73.50 118.34,74.50 C122.84,75.50 127.29,76.50 131.66,77.50 C136.04,78.50 140.36,79.50 144.60,80.50 C148.85,81.50 153.03,82.50 157.15,83.50 C161.26,84.50 165.31,85.50 169.29,86.50 C173.27,87.50 177.19,88.50 181.03,89.50 C184.88,90.50 188.66,91.50 192.37,92.50 C196.08,93.50 199.73,94.50 203.30,95.50 C206.88,96.50 210.39,97.50 213.83,98.50 C217.28,99.50 220.66,100.50 223.97,101.50 C227.28,102.50 230.53,103.50 233.71,104.50 C236.89,105.50 240.01,106.50 243.06,107.50 C246.11,108.50 249.10,109.50 252.03,110.50 C254.96,111.50 257.82,112.50 260.63,113.50 C263.43,114.50 266.17,115.50 268.86,116.50 C271.54,117.50 275.20,118.92 276.73,119.50 C278.25,120.08 275.37,118.92 278.01,120.00 C280.65,121.08 287.94,124.00 292.57,126.00 C297.20,128.00 301.59,130.00 305.78,132.00 C309.97,134.00 313.94,136.00 317.72,138.00 C321.51,140.00 325.08,142.00 328.49,144.00 C331.89,146.00 335.10,148.00 338.16,150.00 C341.23,152.00 344.10,154.00 346.87,156.00 C349.64,158.00 352.25,160.00 354.77,162.00 C357.29,164.00 359.67,166.00 361.99,168.00 C364.30,170.00 366.51,172.00 368.65,174.00 C370.79,176.00 372.84,178.00 374.83,180.00 C376.82,182.00 378.73,184.00 380.57,186.00 C382.42,188.00 384.19,190.00 385.90,192.00 C387.60,194.00 389.24,196.00 390.82,198.00 C392.40,200.00 393.91,202.00 395.36,204.00 C396.81,206.00 398.20,208.00 399.54,210.00 C400.87,212.00 402.15,214.00 403.37,216.00 C404.59,218.00 405.76,220.00 406.88,222.00 C408.00,224.00 409.07,226.00 410.10,228.00 C411.12,230.00 412.09,232.00 413.03,234.00 C413.96,236.00 414.85,238.00 415.70,240.00 C416.55,242.00 417.36,244.00 418.13,246.00 C418.90,248.00 419.64,250.00 420.34,252.00 C421.04,254.00 421.91,256.67 422.35,258.00 C422.78,259.33 422.31,257.67 422.97,260.00 C423.63,262.33 425.31,268.00 426.33,272.00 C427.34,276.00 428.24,280.00 429.07,284.00 C429.90,288.00 430.64,292.00 431.30,296.00 C431.97,300.00 432.56,304.00 433.09,308.00 C433.62,312.00 434.08,316.00 434.50,320.00 C434.92,324.00 435.27,328.00 435.60,332.00 C435.92,336.00 436.19,340.00 436.43,344.00 C436.67,348.00 436.87,352.00 437.04,356.00 C437.21,360.00 437.35,364.00 437.46,368.00 C437.57,372.00 437.66,376.00 437.71,380.00 C437.77,384.00 437.80,388.00 437.80,392.00 C437.80,396.00 437.77,400.00 437.71,404.00 C437.64,408.00 437.55,412.00 437.41,416.00 C437.27,420.00 436.95,426.00 436.86,428.00" fill="none" stroke="#EB6235" stroke-width="3.9" stroke-linecap="round"/>
<path d="M167.14,71.50 C169.42,72.00 176.34,73.50 180.84,74.50 C185.35,75.50 189.79,76.50 194.17,77.50 C198.54,78.50 202.86,79.50 207.10,80.50 C211.35,81.50 215.53,82.50 219.64,83.50 C223.75,84.50 227.80,85.50 231.78,86.50 C235.76,87.50 239.67,88.50 243.51,89.50 C247.36,90.50 251.14,91.50 254.85,92.50 C258.56,93.50 262.20,94.50 265.78,95.50 C269.35,96.50 272.86,97.50 276.31,98.50 C279.75,99.50 283.13,100.50 286.44,101.50 C289.76,102.50 293.01,103.50 296.19,104.50 C299.37,105.50 302.49,106.50 305.55,107.50 C308.61,108.50 311.60,109.50 314.53,110.50 C317.46,111.50 320.33,112.50 323.14,113.50 C325.95,114.50 328.70,115.50 331.39,116.50 C334.08,117.50 337.75,118.92 339.28,119.50 C340.81,120.08 337.92,118.92 340.56,120.00 C343.21,121.08 350.53,124.00 355.16,126.00 C359.80,128.00 364.20,130.00 368.39,132.00 C372.58,134.00 376.54,136.00 380.31,138.00 C384.09,140.00 387.64,142.00 391.02,144.00 C394.40,146.00 397.57,148.00 400.60,150.00 C403.62,152.00 406.44,154.00 409.16,156.00 C411.88,158.00 414.44,160.00 416.92,162.00 C419.39,164.00 421.74,166.00 424.01,168.00 C426.29,170.00 428.46,172.00 430.58,174.00 C432.70,176.00 434.74,178.00 436.71,180.00 C438.69,182.00 440.60,184.00 442.45,186.00 C444.30,188.00 446.08,190.00 447.80,192.00 C449.52,194.00 451.17,196.00 452.76,198.00 C454.36,200.00 455.88,202.00 457.36,204.00 C458.83,206.00 460.24,208.00 461.59,210.00 C462.95,212.00 464.25,214.00 465.49,216.00 C466.74,218.00 467.92,220.00 469.06,222.00 C470.20,224.00 471.29,226.00 472.33,228.00 C473.38,230.00 474.37,232.00 475.32,234.00 C476.27,236.00 477.17,238.00 478.04,240.00 C478.90,242.00 479.72,244.00 480.51,246.00 C481.29,248.00 482.04,250.00 482.75,252.00 C483.46,254.00 484.34,256.67 484.78,258.00 C485.22,259.33 484.74,257.67 485.41,260.00 C486.08,262.33 487.77,268.00 488.80,272.00 C489.82,276.00 490.72,280.00 491.55,284.00 C492.38,288.00 493.11,292.00 493.78,296.00 C494.45,300.00 495.03,304.00 495.56,308.00 C496.08,312.00 496.54,316.00 496.96,320.00 C497.37,324.00 497.72,328.00 498.04,332.00 C498.36,336.00 498.63,340.00 498.87,344.00 C499.11,348.00 499.31,352.00 499.48,356.00 C499.65,360.00 499.79,364.00 499.90,368.00 C500.02,372.00 500.10,376.00 500.16,380.00 C500.22,384.00 500.25,388.00 500.25,392.00 C500.26,396.00 500.23,400.00 500.18,404.00 C500.12,408.00 500.04,412.00 499.91,416.00 C499.78,420.00 499.48,426.00 499.39,428.00" fill="none" stroke="#fff" stroke-width="6.6" stroke-linecap="round"/>
<path d="M167.14,71.50 C169.42,72.00 176.34,73.50 180.84,74.50 C185.35,75.50 189.79,76.50 194.17,77.50 C198.54,78.50 202.86,79.50 207.10,80.50 C211.35,81.50 215.53,82.50 219.64,83.50 C223.75,84.50 227.80,85.50 231.78,86.50 C235.76,87.50 239.67,88.50 243.51,89.50 C247.36,90.50 251.14,91.50 254.85,92.50 C258.56,93.50 262.20,94.50 265.78,95.50 C269.35,96.50 272.86,97.50 276.31,98.50 C279.75,99.50 283.13,100.50 286.44,101.50 C289.76,102.50 293.01,103.50 296.19,104.50 C299.37,105.50 302.49,106.50 305.55,107.50 C308.61,108.50 311.60,109.50 314.53,110.50 C317.46,111.50 320.33,112.50 323.14,113.50 C325.95,114.50 328.70,115.50 331.39,116.50 C334.08,117.50 337.75,118.92 339.28,119.50 C340.81,120.08 337.92,118.92 340.56,120.00 C343.21,121.08 350.53,124.00 355.16,126.00 C359.80,128.00 364.20,130.00 368.39,132.00 C372.58,134.00 376.54,136.00 380.31,138.00 C384.09,140.00 387.64,142.00 391.02,144.00 C394.40,146.00 397.57,148.00 400.60,150.00 C403.62,152.00 406.44,154.00 409.16,156.00 C411.88,158.00 414.44,160.00 416.92,162.00 C419.39,164.00 421.74,166.00 424.01,168.00 C426.29,170.00 428.46,172.00 430.58,174.00 C432.70,176.00 434.74,178.00 436.71,180.00 C438.69,182.00 440.60,184.00 442.45,186.00 C444.30,188.00 446.08,190.00 447.80,192.00 C449.52,194.00 451.17,196.00 452.76,198.00 C454.36,200.00 455.88,202.00 457.36,204.00 C458.83,206.00 460.24,208.00 461.59,210.00 C462.95,212.00 464.25,214.00 465.49,216.00 C466.74,218.00 467.92,220.00 469.06,222.00 C470.20,224.00 471.29,226.00 472.33,228.00 C473.38,230.00 474.37,232.00 475.32,234.00 C476.27,236.00 477.17,238.00 478.04,240.00 C478.90,242.00 479.72,244.00 480.51,246.00 C481.29,248.00 482.04,250.00 482.75,252.00 C483.46,254.00 484.34,256.67 484.78,258.00 C485.22,259.33 484.74,257.67 485.41,260.00 C486.08,262.33 487.77,268.00 488.80,272.00 C489.82,276.00 490.72,280.00 491.55,284.00 C492.38,288.00 493.11,292.00 493.78,296.00 C494.45,300.00 495.03,304.00 495.56,308.00 C496.08,312.00 496.54,316.00 496.96,320.00 C497.37,324.00 497.72,328.00 498.04,332.00 C498.36,336.00 498.63,340.00 498.87,344.00 C499.11,348.00 499.31,352.00 499.48,356.00 C499.65,360.00 499.79,364.00 499.90,368.00 C500.02,372.00 500.10,376.00 500.16,380.00 C500.22,384.00 500.25,388.00 500.25,392.00 C500.26,396.00 500.23,400.00 500.18,404.00 C500.12,408.00 500.04,412.00 499.91,416.00 C499.78,420.00 499.48,426.00 499.39,428.00" fill="none" stroke="#8778B3" stroke-width="3.9" stroke-linecap="round"/>
<path d="M176.54,71.50 C178.83,72.00 185.75,73.50 190.25,74.50 C194.76,75.50 199.20,76.50 203.57,77.50 C207.95,78.50 212.26,79.50 216.50,80.50 C220.74,81.50 224.92,82.50 229.03,83.50 C233.14,84.50 237.19,85.50 241.16,86.50 C245.14,87.50 249.05,88.50 252.89,89.50 C256.74,90.50 260.51,91.50 264.22,92.50 C267.93,93.50 271.58,94.50 275.15,95.50 C278.73,96.50 282.24,97.50 285.68,98.50 C289.13,99.50 292.51,100.50 295.82,101.50 C299.14,102.50 302.39,103.50 305.57,104.50 C308.76,105.50 311.88,106.50 314.94,107.50 C318.00,108.50 321.00,109.50 323.93,110.50 C326.87,111.50 329.75,112.50 332.56,113.50 C335.38,114.50 338.13,115.50 340.83,116.50 C343.52,117.50 347.21,118.92 348.74,119.50 C350.27,120.08 347.37,118.92 350.02,120.00 C352.67,121.08 360.01,124.00 364.66,126.00 C369.30,128.00 373.71,130.00 377.90,132.00 C382.09,134.00 386.05,136.00 389.81,138.00 C393.57,140.00 397.10,142.00 400.46,144.00 C403.81,146.00 406.94,148.00 409.93,150.00 C412.91,152.00 415.69,154.00 418.36,156.00 C421.03,158.00 423.54,160.00 425.97,162.00 C428.40,164.00 430.70,166.00 432.94,168.00 C435.18,170.00 437.32,172.00 439.41,174.00 C441.51,176.00 443.53,178.00 445.50,180.00 C447.47,182.00 449.38,184.00 451.23,186.00 C453.08,188.00 454.87,190.00 456.60,192.00 C458.33,194.00 460.00,196.00 461.61,198.00 C463.22,200.00 464.76,202.00 466.25,204.00 C467.74,206.00 469.18,208.00 470.55,210.00 C471.93,212.00 473.24,214.00 474.51,216.00 C475.78,218.00 476.98,220.00 478.15,222.00 C479.31,224.00 480.41,226.00 481.47,228.00 C482.53,230.00 483.54,232.00 484.51,234.00 C485.47,236.00 486.39,238.00 487.27,240.00 C488.15,242.00 488.98,244.00 489.78,246.00 C490.58,248.00 491.33,250.00 492.06,252.00 C492.78,254.00 493.66,256.67 494.11,258.00 C494.56,259.33 494.08,257.67 494.75,260.00 C495.43,262.33 497.14,268.00 498.17,272.00 C499.20,276.00 500.10,280.00 500.93,284.00 C501.76,288.00 502.49,292.00 503.15,296.00 C503.82,300.00 504.39,304.00 504.92,308.00 C505.45,312.00 505.90,316.00 506.31,320.00 C506.72,324.00 507.07,328.00 507.39,332.00 C507.71,336.00 507.97,340.00 508.21,344.00 C508.45,348.00 508.65,352.00 508.82,356.00 C508.99,360.00 509.13,364.00 509.25,368.00 C509.36,372.00 509.45,376.00 509.51,380.00 C509.57,384.00 509.60,388.00 509.61,392.00 C509.62,396.00 509.60,400.00 509.55,404.00 C509.50,408.00 509.42,412.00 509.30,416.00 C509.18,420.00 508.91,426.00 508.83,428.00" fill="none" stroke="#fff" stroke-width="6.6" stroke-linecap="round"/>
<path d="M176.54,71.50 C178.83,72.00 185.75,73.50 190.25,74.50 C194.76,75.50 199.20,76.50 203.57,77.50 C207.95,78.50 212.26,79.50 216.50,80.50 C220.74,81.50 224.92,82.50 229.03,83.50 C233.14,84.50 237.19,85.50 241.16,86.50 C245.14,87.50 249.05,88.50 252.89,89.50 C256.74,90.50 260.51,91.50 264.22,92.50 C267.93,93.50 271.58,94.50 275.15,95.50 C278.73,96.50 282.24,97.50 285.68,98.50 C289.13,99.50 292.51,100.50 295.82,101.50 C299.14,102.50 302.39,103.50 305.57,104.50 C308.76,105.50 311.88,106.50 314.94,107.50 C318.00,108.50 321.00,109.50 323.93,110.50 C326.87,111.50 329.75,112.50 332.56,113.50 C335.38,114.50 338.13,115.50 340.83,116.50 C343.52,117.50 347.21,118.92 348.74,119.50 C350.27,120.08 347.37,118.92 350.02,120.00 C352.67,121.08 360.01,124.00 364.66,126.00 C369.30,128.00 373.71,130.00 377.90,132.00 C382.09,134.00 386.05,136.00 389.81,138.00 C393.57,140.00 397.10,142.00 400.46,144.00 C403.81,146.00 406.94,148.00 409.93,150.00 C412.91,152.00 415.69,154.00 418.36,156.00 C421.03,158.00 423.54,160.00 425.97,162.00 C428.40,164.00 430.70,166.00 432.94,168.00 C435.18,170.00 437.32,172.00 439.41,174.00 C441.51,176.00 443.53,178.00 445.50,180.00 C447.47,182.00 449.38,184.00 451.23,186.00 C453.08,188.00 454.87,190.00 456.60,192.00 C458.33,194.00 460.00,196.00 461.61,198.00 C463.22,200.00 464.76,202.00 466.25,204.00 C467.74,206.00 469.18,208.00 470.55,210.00 C471.93,212.00 473.24,214.00 474.51,216.00 C475.78,218.00 476.98,220.00 478.15,222.00 C479.31,224.00 480.41,226.00 481.47,228.00 C482.53,230.00 483.54,232.00 484.51,234.00 C485.47,236.00 486.39,238.00 487.27,240.00 C488.15,242.00 488.98,244.00 489.78,246.00 C490.58,248.00 491.33,250.00 492.06,252.00 C492.78,254.00 493.66,256.67 494.11,258.00 C494.56,259.33 494.08,257.67 494.75,260.00 C495.43,262.33 497.14,268.00 498.17,272.00 C499.20,276.00 500.10,280.00 500.93,284.00 C501.76,288.00 502.49,292.00 503.15,296.00 C503.82,300.00 504.39,304.00 504.92,308.00 C505.45,312.00 505.90,316.00 506.31,320.00 C506.72,324.00 507.07,328.00 507.39,332.00 C507.71,336.00 507.97,340.00 508.21,344.00 C508.45,348.00 508.65,352.00 508.82,356.00 C508.99,360.00 509.13,364.00 509.25,368.00 C509.36,372.00 509.45,376.00 509.51,380.00 C509.57,384.00 509.60,388.00 509.61,392.00 C509.62,396.00 509.60,400.00 509.55,404.00 C509.50,408.00 509.42,412.00 509.30,416.00 C509.18,420.00 508.91,426.00 508.83,428.00" fill="none" stroke="#C56E1A" stroke-width="3.9" stroke-linecap="round"/>
<path d="M183.12,71.50 C185.41,72.00 192.32,73.50 196.83,74.50 C201.34,75.50 205.78,76.50 210.16,77.50 C214.54,78.50 218.85,79.50 223.10,80.50 C227.35,81.50 231.54,82.50 235.65,83.50 C239.77,84.50 243.82,85.50 247.81,86.50 C251.79,87.50 255.70,88.50 259.55,89.50 C263.40,90.50 267.18,91.50 270.89,92.50 C274.61,93.50 278.25,94.50 281.83,95.50 C285.41,96.50 288.92,97.50 292.36,98.50 C295.80,99.50 299.18,100.50 302.49,101.50 C305.80,102.50 309.05,103.50 312.22,104.50 C315.40,105.50 318.52,106.50 321.57,107.50 C324.62,108.50 327.60,109.50 330.53,110.50 C333.45,111.50 336.31,112.50 339.11,113.50 C341.91,114.50 344.65,115.50 347.32,116.50 C350.00,117.50 353.65,118.92 355.17,119.50 C356.70,120.08 353.81,118.92 356.45,120.00 C359.08,121.08 366.36,124.00 370.98,126.00 C375.60,128.00 379.98,130.00 384.17,132.00 C388.36,134.00 392.33,136.00 396.13,138.00 C399.92,140.00 403.52,142.00 406.95,144.00 C410.38,146.00 413.63,148.00 416.73,150.00 C419.83,152.00 422.76,154.00 425.58,156.00 C428.39,158.00 431.05,160.00 433.62,162.00 C436.18,164.00 438.61,166.00 440.96,168.00 C443.31,170.00 445.60,172.00 447.71,174.00 C449.83,176.00 451.75,178.00 453.63,180.00 C455.52,182.00 457.29,184.00 459.01,186.00 C460.73,188.00 462.38,190.00 463.98,192.00 C465.58,194.00 467.11,196.00 468.60,198.00 C470.08,200.00 471.48,202.00 472.90,204.00 C474.33,206.00 475.78,208.00 477.15,210.00 C478.52,212.00 479.84,214.00 481.11,216.00 C482.38,218.00 483.58,220.00 484.75,222.00 C485.91,224.00 487.01,226.00 488.07,228.00 C489.13,230.00 490.14,232.00 491.11,234.00 C492.07,236.00 492.99,238.00 493.87,240.00 C494.75,242.00 495.58,244.00 496.38,246.00 C497.18,248.00 497.93,250.00 498.66,252.00 C499.38,254.00 500.26,256.67 500.71,258.00 C501.16,259.33 500.68,257.67 501.35,260.00 C502.03,262.33 503.74,268.00 504.77,272.00 C505.80,276.00 506.70,280.00 507.53,284.00 C508.36,288.00 509.09,292.00 509.75,296.00 C510.42,300.00 510.99,304.00 511.52,308.00 C512.05,312.00 512.50,316.00 512.91,320.00 C513.32,324.00 513.67,328.00 513.99,332.00 C514.31,336.00 514.57,340.00 514.81,344.00 C515.05,348.00 515.25,352.00 515.42,356.00 C515.59,360.00 515.73,364.00 515.85,368.00 C515.96,372.00 516.05,376.00 516.11,380.00 C516.17,384.00 516.20,388.00 516.21,392.00 C516.22,396.00 516.20,400.00 516.15,404.00 C516.10,408.00 516.02,412.00 515.90,416.00 C515.78,420.00 515.51,426.00 515.43,428.00" fill="none" stroke="#fff" stroke-width="6.6" stroke-linecap="round"/>
<path d="M183.12,71.50 C185.41,72.00 192.32,73.50 196.83,74.50 C201.34,75.50 205.78,76.50 210.16,77.50 C214.54,78.50 218.85,79.50 223.10,80.50 C227.35,81.50 231.54,82.50 235.65,83.50 C239.77,84.50 243.82,85.50 247.81,86.50 C251.79,87.50 255.70,88.50 259.55,89.50 C263.40,90.50 267.18,91.50 270.89,92.50 C274.61,93.50 278.25,94.50 281.83,95.50 C285.41,96.50 288.92,97.50 292.36,98.50 C295.80,99.50 299.18,100.50 302.49,101.50 C305.80,102.50 309.05,103.50 312.22,104.50 C315.40,105.50 318.52,106.50 321.57,107.50 C324.62,108.50 327.60,109.50 330.53,110.50 C333.45,111.50 336.31,112.50 339.11,113.50 C341.91,114.50 344.65,115.50 347.32,116.50 C350.00,117.50 353.65,118.92 355.17,119.50 C356.70,120.08 353.81,118.92 356.45,120.00 C359.08,121.08 366.36,124.00 370.98,126.00 C375.60,128.00 379.98,130.00 384.17,132.00 C388.36,134.00 392.33,136.00 396.13,138.00 C399.92,140.00 403.52,142.00 406.95,144.00 C410.38,146.00 413.63,148.00 416.73,150.00 C419.83,152.00 422.76,154.00 425.58,156.00 C428.39,158.00 431.05,160.00 433.62,162.00 C436.18,164.00 438.61,166.00 440.96,168.00 C443.31,170.00 445.60,172.00 447.71,174.00 C449.83,176.00 451.75,178.00 453.63,180.00 C455.52,182.00 457.29,184.00 459.01,186.00 C460.73,188.00 462.38,190.00 463.98,192.00 C465.58,194.00 467.11,196.00 468.60,198.00 C470.08,200.00 471.48,202.00 472.90,204.00 C474.33,206.00 475.78,208.00 477.15,210.00 C478.52,212.00 479.84,214.00 481.11,216.00 C482.38,218.00 483.58,220.00 484.75,222.00 C485.91,224.00 487.01,226.00 488.07,228.00 C489.13,230.00 490.14,232.00 491.11,234.00 C492.07,236.00 492.99,238.00 493.87,240.00 C494.75,242.00 495.58,244.00 496.38,246.00 C497.18,248.00 497.93,250.00 498.66,252.00 C499.38,254.00 500.26,256.67 500.71,258.00 C501.16,259.33 500.68,257.67 501.35,260.00 C502.03,262.33 503.74,268.00 504.77,272.00 C505.80,276.00 506.70,280.00 507.53,284.00 C508.36,288.00 509.09,292.00 509.75,296.00 C510.42,300.00 510.99,304.00 511.52,308.00 C512.05,312.00 512.50,316.00 512.91,320.00 C513.32,324.00 513.67,328.00 513.99,332.00 C514.31,336.00 514.57,340.00 514.81,344.00 C515.05,348.00 515.25,352.00 515.42,356.00 C515.59,360.00 515.73,364.00 515.85,368.00 C515.96,372.00 516.05,376.00 516.11,380.00 C516.17,384.00 516.20,388.00 516.21,392.00 C516.22,396.00 516.20,400.00 516.15,404.00 C516.10,408.00 516.02,412.00 515.90,416.00 C515.78,420.00 515.51,426.00 515.43,428.00" fill="none" stroke="#5D9EC7" stroke-width="3.9" stroke-linecap="round"/>
</g>
<g stroke="#3c3c3c" stroke-width="1.4" fill="none">
<line x1="57.40" y1="62.90" x2="64.50" y2="62.90"/>
<line x1="785.50" y1="62.90" x2="778.40" y2="62.90"/>
<line x1="57.40" y1="178.14" x2="64.50" y2="178.14"/>
<line x1="785.50" y1="178.14" x2="778.40" y2="178.14"/>
<line x1="57.40" y1="227.77" x2="64.50" y2="227.77"/>
<line x1="785.50" y1="227.77" x2="778.40" y2="227.77"/>
<line x1="57.40" y1="343.01" x2="64.50" y2="343.01"/>
<line x1="785.50" y1="343.01" x2="778.40" y2="343.01"/>
<line x1="57.40" y1="392.64" x2="64.50" y2="392.64"/>
<line x1="785.50" y1="392.64" x2="778.40" y2="392.64"/>
<line x1="57.40" y1="408.62" x2="61.10" y2="408.62"/>
<line x1="785.50" y1="408.62" x2="781.80" y2="408.62"/>
<line x1="57.40" y1="379.59" x2="61.10" y2="379.59"/>
<line x1="785.50" y1="379.59" x2="781.80" y2="379.59"/>
<line x1="57.40" y1="368.55" x2="61.10" y2="368.55"/>
<line x1="785.50" y1="368.55" x2="781.80" y2="368.55"/>
<line x1="57.40" y1="358.99" x2="61.10" y2="358.99"/>
<line x1="785.50" y1="358.99" x2="781.80" y2="358.99"/>
<line x1="57.40" y1="350.55" x2="61.10" y2="350.55"/>
<line x1="785.50" y1="350.55" x2="781.80" y2="350.55"/>
<line x1="57.40" y1="293.38" x2="61.10" y2="293.38"/>
<line x1="785.50" y1="293.38" x2="781.80" y2="293.38"/>
<line x1="57.40" y1="264.35" x2="61.10" y2="264.35"/>
<line x1="785.50" y1="264.35" x2="781.80" y2="264.35"/>
<line x1="57.40" y1="243.75" x2="61.10" y2="243.75"/>
<line x1="785.50" y1="243.75" x2="781.80" y2="243.75"/>
<line x1="57.40" y1="214.72" x2="61.10" y2="214.72"/>
<line x1="785.50" y1="214.72" x2="781.80" y2="214.72"/>
<line x1="57.40" y1="203.68" x2="61.10" y2="203.68"/>
<line x1="785.50" y1="203.68" x2="781.80" y2="203.68"/>
<line x1="57.40" y1="194.12" x2="61.10" y2="194.12"/>
<line x1="785.50" y1="194.12" x2="781.80" y2="194.12"/>
<line x1="57.40" y1="185.68" x2="61.10" y2="185.68"/>
<line x1="785.50" y1="185.68" x2="781.80" y2="185.68"/>
<line x1="57.40" y1="128.51" x2="61.10" y2="128.51"/>
<line x1="785.50" y1="128.51" x2="781.80" y2="128.51"/>
<line x1="57.40" y1="99.48" x2="61.10" y2="99.48"/>
<line x1="785.50" y1="99.48" x2="781.80" y2="99.48"/>
<line x1="57.40" y1="78.88" x2="61.10" y2="78.88"/>
<line x1="785.50" y1="78.88" x2="781.80" y2="78.88"/>
<line x1="57.40" y1="49.85" x2="61.10" y2="49.85"/>
<line x1="785.50" y1="49.85" x2="781.80" y2="49.85"/>
<line x1="57.40" y1="38.81" x2="61.10" y2="38.81"/>
<line x1="785.50" y1="38.81" x2="781.80" y2="38.81"/>
<line x1="57.40" y1="29.25" x2="61.10" y2="29.25"/>
<line x1="785.50" y1="29.25" x2="781.80" y2="29.25"/>
<line x1="57.40" y1="20.81" x2="61.10" y2="20.81"/>
<line x1="785.50" y1="20.81" x2="781.80" y2="20.81"/>
<line x1="72.02" y1="415.10" x2="72.02" y2="412.70"/>
<line x1="72.02" y1="14.50" x2="72.02" y2="16.90"/>
<line x1="103.10" y1="415.10" x2="103.10" y2="411.10"/>
<line x1="103.10" y1="14.50" x2="103.10" y2="18.50"/>
<line x1="134.18" y1="415.10" x2="134.18" y2="412.70"/>
<line x1="134.18" y1="14.50" x2="134.18" y2="16.90"/>
<line x1="165.25" y1="415.10" x2="165.25" y2="412.70"/>
<line x1="165.25" y1="14.50" x2="165.25" y2="16.90"/>
<line x1="196.33" y1="415.10" x2="196.33" y2="412.70"/>
<line x1="196.33" y1="14.50" x2="196.33" y2="16.90"/>
<line x1="227.40" y1="415.10" x2="227.40" y2="412.70"/>
<line x1="227.40" y1="14.50" x2="227.40" y2="16.90"/>
<line x1="258.48" y1="415.10" x2="258.48" y2="411.10"/>
<line x1="258.48" y1="14.50" x2="258.48" y2="18.50"/>
<line x1="289.55" y1="415.10" x2="289.55" y2="412.70"/>
<line x1="289.55" y1="14.50" x2="289.55" y2="16.90"/>
<line x1="320.63" y1="415.10" x2="320.63" y2="412.70"/>
<line x1="320.63" y1="14.50" x2="320.63" y2="16.90"/>
<line x1="351.70" y1="415.10" x2="351.70" y2="412.70"/>
<line x1="351.70" y1="14.50" x2="351.70" y2="16.90"/>
<line x1="382.78" y1="415.10" x2="382.78" y2="412.70"/>
<line x1="382.78" y1="14.50" x2="382.78" y2="16.90"/>
<line x1="413.85" y1="415.10" x2="413.85" y2="411.10"/>
<line x1="413.85" y1="14.50" x2="413.85" y2="18.50"/>
<line x1="444.93" y1="415.10" x2="444.93" y2="412.70"/>
<line x1="444.93" y1="14.50" x2="444.93" y2="16.90"/>
<line x1="476.00" y1="415.10" x2="476.00" y2="412.70"/>
<line x1="476.00" y1="14.50" x2="476.00" y2="16.90"/>
<line x1="507.08" y1="415.10" x2="507.08" y2="412.70"/>
<line x1="507.08" y1="14.50" x2="507.08" y2="16.90"/>
<line x1="538.15" y1="415.10" x2="538.15" y2="412.70"/>
<line x1="538.15" y1="14.50" x2="538.15" y2="16.90"/>
<line x1="569.23" y1="415.10" x2="569.23" y2="411.10"/>
<line x1="569.23" y1="14.50" x2="569.23" y2="18.50"/>
<line x1="600.30" y1="415.10" x2="600.30" y2="412.70"/>
<line x1="600.30" y1="14.50" x2="600.30" y2="16.90"/>
<line x1="631.38" y1="415.10" x2="631.38" y2="412.70"/>
<line x1="631.38" y1="14.50" x2="631.38" y2="16.90"/>
<line x1="662.45" y1="415.10" x2="662.45" y2="412.70"/>
<line x1="662.45" y1="14.50" x2="662.45" y2="16.90"/>
<line x1="693.53" y1="415.10" x2="693.53" y2="412.70"/>
<line x1="693.53" y1="14.50" x2="693.53" y2="16.90"/>
<line x1="724.60" y1="415.10" x2="724.60" y2="411.10"/>
<line x1="724.60" y1="14.50" x2="724.60" y2="18.50"/>
<line x1="755.68" y1="415.10" x2="755.68" y2="412.70"/>
<line x1="755.68" y1="14.50" x2="755.68" y2="16.90"/>
</g>
<rect x="57.40" y="14.50" width="728.10" height="400.60" fill="none" stroke="#151515" stroke-width="1.7"/>
<text transform="translate(0,66.10) scale(1.240,1)" x="21.77 26.77 31.77 36.77 41.77" y="0" text-anchor="middle" font-family="Liberation Sans, sans-serif" font-weight="normal" font-style="normal" font-size="8.90" fill="#111" stroke="#111" stroke-width="0.12">0.050</text>
<text transform="translate(0,181.34) scale(1.240,1)" x="21.77 26.77 31.77 36.77 41.77" y="0" text-anchor="middle" font-family="Liberation Sans, sans-serif" font-weight="normal" font-style="normal" font-size="8.90" fill="#111" stroke="#111" stroke-width="0.12">0.010</text>
<text transform="translate(0,230.97) scale(1.240,1)" x="21.77 26.77 31.77 36.77 41.77" y="0" text-anchor="middle" font-family="Liberation Sans, sans-serif" font-weight="normal" font-style="normal" font-size="8.90" fill="#111" stroke="#111" stroke-width="0.12">0.005</text>
<text transform="translate(0,346.21) scale(1.240,1)" x="21.77 26.77 31.77 36.77 41.77" y="0" text-anchor="middle" font-family="Liberation Sans, sans-serif" font-weight="normal" font-style="normal" font-size="8.90" fill="#111" stroke="#111" stroke-width="0.12">0.001</text>
<text transform="translate(0,395.74) scale(1.240,1)" x="16.05 22.90 29.35 33.95" y="0" text-anchor="middle" font-family="Liberation Sans, sans-serif" font-weight="normal" font-style="normal" font-size="8.90" fill="#111" stroke="#111" stroke-width="0.12">5×10</text>
<text transform="translate(0,392.14) scale(1.240,1)" x="38.95 42.42" y="0" text-anchor="middle" font-family="Liberation Sans, sans-serif" font-weight="normal" font-style="normal" font-size="6.30" fill="#111" stroke="#111" stroke-width="0.12">-4</text>
<text transform="translate(0,425.10) scale(1.240,1)" x="75.73 80.73 85.73 90.73" y="0" text-anchor="middle" font-family="Liberation Sans, sans-serif" font-weight="normal" font-style="normal" font-size="8.90" fill="#111" stroke="#111" stroke-width="0.12">0.95</text>
<text transform="translate(0,425.10) scale(1.240,1)" x="201.03 206.03 211.03 216.03" y="0" text-anchor="middle" font-family="Liberation Sans, sans-serif" font-weight="normal" font-style="normal" font-size="8.90" fill="#111" stroke="#111" stroke-width="0.12">0.96</text>
<text transform="translate(0,425.10) scale(1.240,1)" x="326.33 331.33 336.33 341.33" y="0" text-anchor="middle" font-family="Liberation Sans, sans-serif" font-weight="normal" font-style="normal" font-size="8.90" fill="#111" stroke="#111" stroke-width="0.12">0.97</text>
<text transform="translate(0,425.10) scale(1.240,1)" x="451.63 456.63 461.63 466.63" y="0" text-anchor="middle" font-family="Liberation Sans, sans-serif" font-weight="normal" font-style="normal" font-size="8.90" fill="#111" stroke="#111" stroke-width="0.12">0.98</text>
<text transform="translate(0,425.10) scale(1.240,1)" x="576.94 581.94 586.94 591.94" y="0" text-anchor="middle" font-family="Liberation Sans, sans-serif" font-weight="normal" font-style="normal" font-size="8.90" fill="#111" stroke="#111" stroke-width="0.12">0.99</text>
<text transform="translate(420.4,10.8) scale(1.14,1)" x="0" y="0" text-anchor="middle" font-family="Liberation Mono, monospace" font-weight="bold" font-size="9.25" fill="#111"><tspan font-style="italic">κ</tspan> vs n<tspan font-size="6.4" dy="1.8">s</tspan><tspan dy="-1.8">-r</tspan><tspan font-style="italic">;</tspan> (<tspan font-style="italic">ξ</tspan>=1×1O<tspan font-size="6.4" dy="-3.4">-4</tspan><tspan dy="3.4">,</tspan> <tspan font-style="italic">β</tspan>=O.4, <tspan font-style="italic">λ</tspan>=O.O4)</text>
<text transform="translate(0,442.30) scale(1.150,1)" x="364.87" y="0" text-anchor="middle" font-family="Liberation Mono, sans-serif" font-weight="bold" font-style="italic" font-size="8.60" fill="#111" stroke="#111" stroke-width="0.12">n</text>
<text transform="translate(0,444.00) scale(1.100,1)" x="386.27" y="0" text-anchor="middle" font-family="Liberation Mono, sans-serif" font-weight="bold" font-style="italic" font-size="6.00" fill="#111" stroke="#111" stroke-width="0.12">s</text>
<text transform="translate(10.6,215.6) rotate(-90)" text-anchor="middle" font-family="Liberation Mono, monospace" font-weight="bold" font-style="italic" font-size="10" fill="#1a1a1a">r</text>
<rect x="795.6" y="130.30" width="6.5" height="6.5" fill="#3399FF"/>
<text x="805.4" y="136.90" font-family="Liberation Mono, monospace" font-weight="bold" font-size="10.45" fill="#1a1a1a">ACT-LB-BK18</text>
<rect x="795.6" y="144.60" width="6.5" height="6.5" fill="#FF9922"/>
<text x="805.4" y="151.20" font-family="Liberation Mono, monospace" font-weight="bold" font-size="10.45" fill="#1a1a1a">Planck-LB-BK18</text>
<rect x="795.6" y="158.90" width="6.5" height="6.5" fill="#9900B3"/>
<text x="805.4" y="165.50" font-family="Liberation Mono, monospace" font-weight="bold" font-size="10.45" fill="#1a1a1a">P-ACT-LB-BK18</text>
<line x1="795.7" y1="194.40" x2="828" y2="194.40" stroke="#5E81B5" stroke-width="2.1"/>
<text transform="translate(0,198.70) scale(1.000,1)" x="836.40" y="0" text-anchor="middle" font-family="Liberation Mono, sans-serif" font-weight="normal" font-style="italic" font-size="10.40" fill="#111" stroke="#111" stroke-width="0.35">κ</text>
<text transform="translate(0,198.40) scale(0.850,1)" x="998.94" y="0" text-anchor="middle" font-family="Liberation Sans, sans-serif" font-weight="normal" font-style="normal" font-size="9.50" fill="#111" stroke="#111" stroke-width="0.30">=</text>
<text transform="translate(0,198.70) scale(1.160,1)" x="742.41 752.84 758.28" y="0" text-anchor="middle" font-family="Liberation Sans, sans-serif" font-weight="normal" font-style="normal" font-size="9.60" fill="#111" stroke="#111" stroke-width="0.30">110</text>
<text transform="translate(0,198.70) scale(1.050,1)" x="826.57" y="0" text-anchor="middle" font-family="Liberation Sans, sans-serif" font-weight="normal" font-style="normal" font-size="8.60" fill="#111" stroke="#111" stroke-width="0.30">×</text>
<text transform="translate(0,194.40) scale(1.200,1)" x="738.25 741.83" y="0" text-anchor="middle" font-family="Liberation Sans, sans-serif" font-weight="normal" font-style="normal" font-size="6.20" fill="#111" stroke="#111" stroke-width="0.30">-2</text>
<line x1="795.7" y1="213.90" x2="828" y2="213.90" stroke="#E19C24" stroke-width="2.1"/>
<text transform="translate(0,218.20) scale(1.000,1)" x="836.40" y="0" text-anchor="middle" font-family="Liberation Mono, sans-serif" font-weight="normal" font-style="italic" font-size="10.40" fill="#111" stroke="#111" stroke-width="0.35">κ</text>
<text transform="translate(0,217.90) scale(0.850,1)" x="998.94" y="0" text-anchor="middle" font-family="Liberation Sans, sans-serif" font-weight="normal" font-style="normal" font-size="9.50" fill="#111" stroke="#111" stroke-width="0.30">=</text>
<text transform="translate(0,218.20) scale(1.160,1)" x="742.41 752.84 758.28" y="0" text-anchor="middle" font-family="Liberation Sans, sans-serif" font-weight="normal" font-style="normal" font-size="9.60" fill="#111" stroke="#111" stroke-width="0.30">710</text>
<text transform="translate(0,218.20) scale(1.050,1)" x="826.57" y="0" text-anchor="middle" font-family="Liberation Sans, sans-serif" font-weight="normal" font-style="normal" font-size="8.60" fill="#111" stroke="#111" stroke-width="0.30">×</text>
<text transform="translate(0,213.90) scale(1.200,1)" x="738.25 741.83" y="0" text-anchor="middle" font-family="Liberation Sans, sans-serif" font-weight="normal" font-style="normal" font-size="6.20" fill="#111" stroke="#111" stroke-width="0.30">-3</text>
<line x1="795.7" y1="233.40" x2="828" y2="233.40" stroke="#8FB032" stroke-width="2.1"/>
<text transform="translate(0,237.70) scale(1.000,1)" x="836.40" y="0" text-anchor="middle" font-family="Liberation Mono, sans-serif" font-weight="normal" font-style="italic" font-size="10.40" fill="#111" stroke="#111" stroke-width="0.35">κ</text>
<text transform="translate(0,237.40) scale(0.850,1)" x="998.94" y="0" text-anchor="middle" font-family="Liberation Sans, sans-serif" font-weight="normal" font-style="normal" font-size="9.50" fill="#111" stroke="#111" stroke-width="0.30">=</text>
<text transform="translate(0,237.70) scale(1.160,1)" x="742.41 752.84 758.28" y="0" text-anchor="middle" font-family="Liberation Sans, sans-serif" font-weight="normal" font-style="normal" font-size="9.60" fill="#111" stroke="#111" stroke-width="0.30">510</text>
<text transform="translate(0,237.70) scale(1.050,1)" x="826.57" y="0" text-anchor="middle" font-family="Liberation Sans, sans-serif" font-weight="normal" font-style="normal" font-size="8.60" fill="#111" stroke="#111" stroke-width="0.30">×</text>
<text transform="translate(0,233.40) scale(1.200,1)" x="738.25 741.83" y="0" text-anchor="middle" font-family="Liberation Sans, sans-serif" font-weight="normal" font-style="normal" font-size="6.20" fill="#111" stroke="#111" stroke-width="0.30">-3</text>
<line x1="795.7" y1="252.90" x2="828" y2="252.90" stroke="#EB6235" stroke-width="2.1"/>
<text transform="translate(0,257.20) scale(1.000,1)" x="836.40" y="0" text-anchor="middle" font-family="Liberation Mono, sans-serif" font-weight="normal" font-style="italic" font-size="10.40" fill="#111" stroke="#111" stroke-width="0.35">κ</text>
<text transform="translate(0,256.90) scale(0.850,1)" x="998.94" y="0" text-anchor="middle" font-family="Liberation Sans, sans-serif" font-weight="normal" font-style="normal" font-size="9.50" fill="#111" stroke="#111" stroke-width="0.30">=</text>
<text transform="translate(0,257.20) scale(1.160,1)" x="742.41 752.84 758.28" y="0" text-anchor="middle" font-family="Liberation Sans, sans-serif" font-weight="normal" font-style="normal" font-size="9.60" fill="#111" stroke="#111" stroke-width="0.30">310</text>
<text transform="translate(0,257.20) scale(1.050,1)" x="826.57" y="0" text-anchor="middle" font-family="Liberation Sans, sans-serif" font-weight="normal" font-style="normal" font-size="8.60" fill="#111" stroke="#111" stroke-width="0.30">×</text>
<text transform="translate(0,252.90) scale(1.200,1)" x="738.25 741.83" y="0" text-anchor="middle" font-family="Liberation Sans, sans-serif" font-weight="normal" font-style="normal" font-size="6.20" fill="#111" stroke="#111" stroke-width="0.30">-3</text>
<line x1="795.7" y1="272.40" x2="828" y2="272.40" stroke="#8778B3" stroke-width="2.1"/>
<text transform="translate(0,276.70) scale(1.000,1)" x="836.40" y="0" text-anchor="middle" font-family="Liberation Mono, sans-serif" font-weight="normal" font-style="italic" font-size="10.40" fill="#111" stroke="#111" stroke-width="0.35">κ</text>
<text transform="translate(0,276.40) scale(0.850,1)" x="998.94" y="0" text-anchor="middle" font-family="Liberation Sans, sans-serif" font-weight="normal" font-style="normal" font-size="9.50" fill="#111" stroke="#111" stroke-width="0.30">=</text>
<text transform="translate(0,276.70) scale(1.160,1)" x="742.41 752.84 758.28" y="0" text-anchor="middle" font-family="Liberation Sans, sans-serif" font-weight="normal" font-style="normal" font-size="9.60" fill="#111" stroke="#111" stroke-width="0.30">110</text>
<text transform="translate(0,276.70) scale(1.050,1)" x="826.57" y="0" text-anchor="middle" font-family="Liberation Sans, sans-serif" font-weight="normal" font-style="normal" font-size="8.60" fill="#111" stroke="#111" stroke-width="0.30">×</text>
<text transform="translate(0,272.40) scale(1.200,1)" x="738.25 741.83" y="0" text-anchor="middle" font-family="Liberation Sans, sans-serif" font-weight="normal" font-style="normal" font-size="6.20" fill="#111" stroke="#111" stroke-width="0.30">-3</text>
<line x1="795.7" y1="291.90" x2="828" y2="291.90" stroke="#C56E1A" stroke-width="2.1"/>
<text transform="translate(0,296.20) scale(1.000,1)" x="836.40" y="0" text-anchor="middle" font-family="Liberation Mono, sans-serif" font-weight="normal" font-style="italic" font-size="10.40" fill="#111" stroke="#111" stroke-width="0.35">κ</text>
<text transform="translate(0,295.90) scale(0.850,1)" x="998.94" y="0" text-anchor="middle" font-family="Liberation Sans, sans-serif" font-weight="normal" font-style="normal" font-size="9.50" fill="#111" stroke="#111" stroke-width="0.30">=</text>
<text transform="translate(0,296.20) scale(1.160,1)" x="742.41 752.84 758.28" y="0" text-anchor="middle" font-family="Liberation Sans, sans-serif" font-weight="normal" font-style="normal" font-size="9.60" fill="#111" stroke="#111" stroke-width="0.30">710</text>
<text transform="translate(0,296.20) scale(1.050,1)" x="826.57" y="0" text-anchor="middle" font-family="Liberation Sans, sans-serif" font-weight="normal" font-style="normal" font-size="8.60" fill="#111" stroke="#111" stroke-width="0.30">×</text>
<text transform="translate(0,291.90) scale(1.200,1)" x="738.25 741.83" y="0" text-anchor="middle" font-family="Liberation Sans, sans-serif" font-weight="normal" font-style="normal" font-size="6.20" fill="#111" stroke="#111" stroke-width="0.30">-4</text>
<line x1="795.7" y1="311.40" x2="828" y2="311.40" stroke="#5D9EC7" stroke-width="2.1"/>
<text transform="translate(0,315.70) scale(1.000,1)" x="836.40" y="0" text-anchor="middle" font-family="Liberation Mono, sans-serif" font-weight="normal" font-style="italic" font-size="10.40" fill="#111" stroke="#111" stroke-width="0.35">κ</text>
<text transform="translate(0,315.40) scale(0.850,1)" x="998.94" y="0" text-anchor="middle" font-family="Liberation Sans, sans-serif" font-weight="normal" font-style="normal" font-size="9.50" fill="#111" stroke="#111" stroke-width="0.30">=</text>
<text transform="translate(0,315.70) scale(1.160,1)" x="742.41 752.84 758.28" y="0" text-anchor="middle" font-family="Liberation Sans, sans-serif" font-weight="normal" font-style="normal" font-size="9.60" fill="#111" stroke="#111" stroke-width="0.30">510</text>
<text transform="translate(0,315.70) scale(1.050,1)" x="826.57" y="0" text-anchor="middle" font-family="Liberation Sans, sans-serif" font-weight="normal" font-style="normal" font-size="8.60" fill="#111" stroke="#111" stroke-width="0.30">×</text>
<text transform="translate(0,311.40) scale(1.200,1)" x="738.25 741.83" y="0" text-anchor="middle" font-family="Liberation Sans, sans-serif" font-weight="normal" font-style="normal" font-size="6.20" fill="#111" stroke="#111" stroke-width="0.30">-4</text>
</svg>
</body></html>
